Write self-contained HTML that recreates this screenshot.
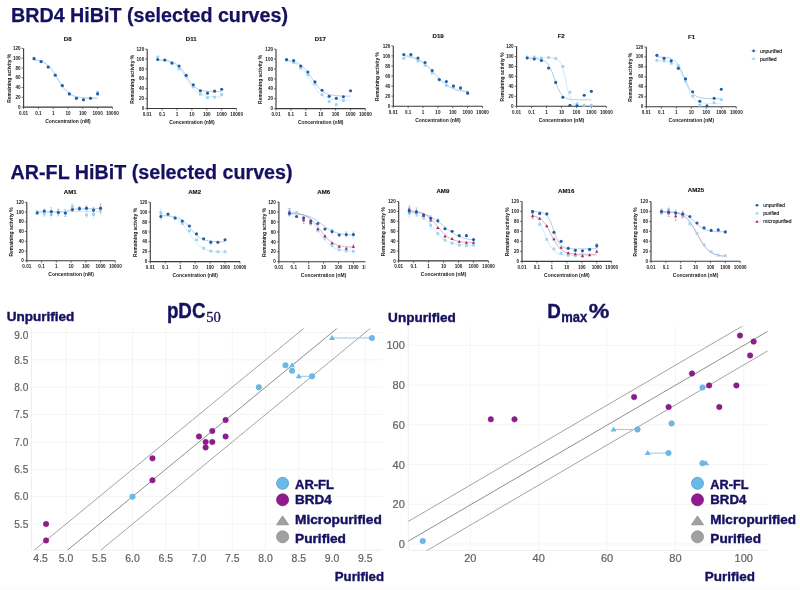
<!DOCTYPE html>
<html><head><meta charset="utf-8"><style>
html,body{margin:0;padding:0;background:#fff;width:800px;height:590px;overflow:hidden}
svg{display:block;will-change:transform}
</style></head><body>
<svg width="800" height="590" viewBox="0 0 800 590">
<rect width="800" height="590" fill="#fff"/>
<rect x="0" y="587" width="800" height="3" fill="#fbfcfb"/>
<text x="11.00" y="21.70" font-size="20.3" fill="#15105f" text-anchor="start" font-weight="bold" font-family='"Liberation Sans", sans-serif' textLength="277.00" lengthAdjust="spacingAndGlyphs" stroke="#15105f" stroke-width="0.25">BRD4 HiBiT (selected curves)</text>
<text x="10.60" y="179.00" font-size="20.3" fill="#15105f" text-anchor="start" font-weight="bold" font-family='"Liberation Sans", sans-serif' textLength="282.00" lengthAdjust="spacingAndGlyphs" stroke="#15105f" stroke-width="0.25">AR-FL HiBiT (selected curves)</text>
<g>
<path d="M23.60 48.40 V107.10 H112.40" stroke="#3a3a3a" stroke-width="1.1" fill="none"/>
<path d="M21.60 107.10 H23.60" stroke="#3a3a3a" stroke-width="0.7"/>
<text x="20.60" y="108.70" font-size="4.6" text-anchor="end" font-family='"Liberation Sans", sans-serif' font-weight="bold" fill="#1a1a1a">0</text>
<path d="M21.60 97.32 H23.60" stroke="#3a3a3a" stroke-width="0.7"/>
<text x="20.60" y="98.92" font-size="4.6" text-anchor="end" font-family='"Liberation Sans", sans-serif' font-weight="bold" fill="#1a1a1a">20</text>
<path d="M21.60 87.53 H23.60" stroke="#3a3a3a" stroke-width="0.7"/>
<text x="20.60" y="89.13" font-size="4.6" text-anchor="end" font-family='"Liberation Sans", sans-serif' font-weight="bold" fill="#1a1a1a">40</text>
<path d="M21.60 77.75 H23.60" stroke="#3a3a3a" stroke-width="0.7"/>
<text x="20.60" y="79.35" font-size="4.6" text-anchor="end" font-family='"Liberation Sans", sans-serif' font-weight="bold" fill="#1a1a1a">60</text>
<path d="M21.60 67.97 H23.60" stroke="#3a3a3a" stroke-width="0.7"/>
<text x="20.60" y="69.57" font-size="4.6" text-anchor="end" font-family='"Liberation Sans", sans-serif' font-weight="bold" fill="#1a1a1a">80</text>
<path d="M21.60 58.18 H23.60" stroke="#3a3a3a" stroke-width="0.7"/>
<text x="20.60" y="59.78" font-size="4.6" text-anchor="end" font-family='"Liberation Sans", sans-serif' font-weight="bold" fill="#1a1a1a">100</text>
<path d="M21.60 48.40 H23.60" stroke="#3a3a3a" stroke-width="0.7"/>
<text x="20.60" y="50.00" font-size="4.6" text-anchor="end" font-family='"Liberation Sans", sans-serif' font-weight="bold" fill="#1a1a1a">120</text>
<path d="M23.60 107.10 V109.10" stroke="#3a3a3a" stroke-width="0.7"/>
<text x="23.60" y="114.50" font-size="4.6" text-anchor="middle" font-family='"Liberation Sans", sans-serif' font-weight="bold" fill="#1a1a1a">0.01</text>
<path d="M38.40 107.10 V109.10" stroke="#3a3a3a" stroke-width="0.7"/>
<text x="38.40" y="114.50" font-size="4.6" text-anchor="middle" font-family='"Liberation Sans", sans-serif' font-weight="bold" fill="#1a1a1a">0.1</text>
<path d="M53.20 107.10 V109.10" stroke="#3a3a3a" stroke-width="0.7"/>
<text x="53.20" y="114.50" font-size="4.6" text-anchor="middle" font-family='"Liberation Sans", sans-serif' font-weight="bold" fill="#1a1a1a">1</text>
<path d="M68.00 107.10 V109.10" stroke="#3a3a3a" stroke-width="0.7"/>
<text x="68.00" y="114.50" font-size="4.6" text-anchor="middle" font-family='"Liberation Sans", sans-serif' font-weight="bold" fill="#1a1a1a">10</text>
<path d="M82.80 107.10 V109.10" stroke="#3a3a3a" stroke-width="0.7"/>
<text x="82.80" y="114.50" font-size="4.6" text-anchor="middle" font-family='"Liberation Sans", sans-serif' font-weight="bold" fill="#1a1a1a">100</text>
<path d="M97.60 107.10 V109.10" stroke="#3a3a3a" stroke-width="0.7"/>
<text x="97.60" y="114.50" font-size="4.6" text-anchor="middle" font-family='"Liberation Sans", sans-serif' font-weight="bold" fill="#1a1a1a">1000</text>
<path d="M112.40 107.10 V109.10" stroke="#3a3a3a" stroke-width="0.7"/>
<text x="112.40" y="114.50" font-size="4.6" text-anchor="middle" font-family='"Liberation Sans", sans-serif' font-weight="bold" fill="#1a1a1a">10000</text>
<text x="68.00" y="122.60" font-size="5.1" text-anchor="middle" font-family='"Liberation Sans", sans-serif' font-weight="bold" fill="#1a1a1a" textLength="45.5" lengthAdjust="spacingAndGlyphs">Concentration (nM)</text>
<text x="11.20" y="78.25" font-size="4.9" text-anchor="middle" font-family='"Liberation Sans", sans-serif' font-weight="bold" fill="#1a1a1a" transform="rotate(-90 11.20 78.25)">Remaining activity %</text>
<text x="67.70" y="40.50" font-size="6.1" text-anchor="middle" font-family='"Liberation Sans", sans-serif' font-weight="bold" fill="#111" stroke="#111" stroke-width="0.12">D8</text>
<path d="M33.94 59.83 L34.74 59.92 L35.54 60.03 L36.33 60.15 L37.13 60.29 L37.92 60.45 L38.72 60.64 L39.51 60.84 L40.31 61.07 L41.11 61.34 L41.90 61.64 L42.70 61.97 L43.49 62.35 L44.29 62.77 L45.08 63.24 L45.88 63.76 L46.68 64.35 L47.47 64.99 L48.27 65.70 L49.06 66.47 L49.86 67.32 L50.65 68.23 L51.45 69.22 L52.25 70.27 L53.04 71.38 L53.84 72.55 L54.63 73.78 L55.43 75.04 L56.22 76.34 L57.02 77.67 L57.82 79.00 L58.61 80.33 L59.41 81.64 L60.20 82.93 L61.00 84.18 L61.79 85.38 L62.59 86.53 L63.39 87.62 L64.18 88.64 L64.98 89.60 L65.77 90.49 L66.57 91.30 L67.36 92.05 L68.16 92.73 L68.96 93.35 L69.75 93.91 L70.55 94.41 L71.34 94.86 L72.14 95.27 L72.93 95.63 L73.73 95.95 L74.52 96.23 L75.32 96.48 L76.12 96.70 L76.91 96.90 L77.71 97.07 L78.50 97.22 L79.30 97.35 L80.09 97.47 L80.89 97.57 L81.69 97.66 L82.48 97.74 L83.28 97.81 L84.07 97.87 L84.87 97.93 L85.66 97.97 L86.46 98.01 L87.26 98.05 L88.05 98.08 L88.85 98.11 L89.64 98.13 L90.44 98.15 L91.23 98.17 L92.03 98.19 L92.83 98.20 L93.62 98.21 L94.42 98.22 L95.21 98.23 L96.01 98.24 L96.80 98.25 L97.60 98.25" stroke="#7ea8d2" stroke-width="0.6" fill="none"/>
<path d="M33.94 59.35 L34.74 59.44 L35.54 59.55 L36.33 59.68 L37.13 59.82 L37.92 59.98 L38.72 60.16 L39.51 60.37 L40.31 60.61 L41.11 60.88 L41.90 61.18 L42.70 61.52 L43.49 61.90 L44.29 62.32 L45.08 62.80 L45.88 63.33 L46.68 63.92 L47.47 64.57 L48.27 65.29 L49.06 66.08 L49.86 66.93 L50.65 67.86 L51.45 68.85 L52.25 69.92 L53.04 71.04 L53.84 72.23 L54.63 73.47 L55.43 74.75 L56.22 76.07 L57.02 77.41 L57.82 78.76 L58.61 80.10 L59.41 81.43 L60.20 82.73 L61.00 84.00 L61.79 85.22 L62.59 86.38 L63.39 87.49 L64.18 88.52 L64.98 89.49 L65.77 90.39 L66.57 91.22 L67.36 91.97 L68.16 92.66 L68.96 93.29 L69.75 93.86 L70.55 94.36 L71.34 94.82 L72.14 95.23 L72.93 95.59 L73.73 95.92 L74.52 96.20 L75.32 96.46 L76.12 96.68 L76.91 96.88 L77.71 97.05 L78.50 97.21 L79.30 97.34 L80.09 97.46 L80.89 97.57 L81.69 97.66 L82.48 97.74 L83.28 97.81 L84.07 97.87 L84.87 97.92 L85.66 97.97 L86.46 98.01 L87.26 98.05 L88.05 98.08 L88.85 98.11 L89.64 98.13 L90.44 98.15 L91.23 98.17 L92.03 98.18 L92.83 98.20 L93.62 98.21 L94.42 98.22 L95.21 98.23 L96.01 98.24 L96.80 98.25 L97.60 98.25" stroke="#afdbf5" stroke-width="0.6" fill="none"/>
<rect x="32.65" y="56.78" width="2.8" height="2.8" fill="#9dd3f5"/>
<rect x="39.71" y="60.21" width="2.8" height="2.8" fill="#9dd3f5"/>
<rect x="46.77" y="65.59" width="2.8" height="2.8" fill="#9dd3f5"/>
<rect x="53.83" y="73.41" width="2.8" height="2.8" fill="#9dd3f5"/>
<rect x="60.89" y="84.18" width="2.8" height="2.8" fill="#9dd3f5"/>
<rect x="67.95" y="92.49" width="2.8" height="2.8" fill="#9dd3f5"/>
<rect x="75.02" y="96.89" width="2.8" height="2.8" fill="#9dd3f5"/>
<rect x="82.08" y="98.36" width="2.8" height="2.8" fill="#9dd3f5"/>
<rect x="89.14" y="96.89" width="2.8" height="2.8" fill="#9dd3f5"/>
<rect x="96.20" y="91.02" width="2.8" height="2.8" fill="#9dd3f5"/>
<circle cx="34.05" cy="58.67" r="1.55" fill="#1f5ca6"/>
<circle cx="41.11" cy="61.61" r="1.55" fill="#1f5ca6"/>
<circle cx="48.17" cy="66.99" r="1.55" fill="#1f5ca6"/>
<circle cx="55.23" cy="75.30" r="1.55" fill="#1f5ca6"/>
<circle cx="62.29" cy="85.58" r="1.55" fill="#1f5ca6"/>
<circle cx="69.35" cy="93.89" r="1.55" fill="#1f5ca6"/>
<circle cx="76.42" cy="98.29" r="1.55" fill="#1f5ca6"/>
<circle cx="83.48" cy="99.76" r="1.55" fill="#1f5ca6"/>
<circle cx="90.54" cy="98.29" r="1.55" fill="#1f5ca6"/>
<circle cx="97.60" cy="93.89" r="1.55" fill="#1f5ca6"/>
<path d="M147.20 49.10 V108.50 H236.60" stroke="#3a3a3a" stroke-width="1.1" fill="none"/>
<path d="M145.20 108.50 H147.20" stroke="#3a3a3a" stroke-width="0.7"/>
<text x="144.20" y="110.10" font-size="4.6" text-anchor="end" font-family='"Liberation Sans", sans-serif' font-weight="bold" fill="#1a1a1a">0</text>
<path d="M145.20 98.60 H147.20" stroke="#3a3a3a" stroke-width="0.7"/>
<text x="144.20" y="100.20" font-size="4.6" text-anchor="end" font-family='"Liberation Sans", sans-serif' font-weight="bold" fill="#1a1a1a">20</text>
<path d="M145.20 88.70 H147.20" stroke="#3a3a3a" stroke-width="0.7"/>
<text x="144.20" y="90.30" font-size="4.6" text-anchor="end" font-family='"Liberation Sans", sans-serif' font-weight="bold" fill="#1a1a1a">40</text>
<path d="M145.20 78.80 H147.20" stroke="#3a3a3a" stroke-width="0.7"/>
<text x="144.20" y="80.40" font-size="4.6" text-anchor="end" font-family='"Liberation Sans", sans-serif' font-weight="bold" fill="#1a1a1a">60</text>
<path d="M145.20 68.90 H147.20" stroke="#3a3a3a" stroke-width="0.7"/>
<text x="144.20" y="70.50" font-size="4.6" text-anchor="end" font-family='"Liberation Sans", sans-serif' font-weight="bold" fill="#1a1a1a">80</text>
<path d="M145.20 59.00 H147.20" stroke="#3a3a3a" stroke-width="0.7"/>
<text x="144.20" y="60.60" font-size="4.6" text-anchor="end" font-family='"Liberation Sans", sans-serif' font-weight="bold" fill="#1a1a1a">100</text>
<path d="M145.20 49.10 H147.20" stroke="#3a3a3a" stroke-width="0.7"/>
<text x="144.20" y="50.70" font-size="4.6" text-anchor="end" font-family='"Liberation Sans", sans-serif' font-weight="bold" fill="#1a1a1a">120</text>
<path d="M147.20 108.50 V110.50" stroke="#3a3a3a" stroke-width="0.7"/>
<text x="147.20" y="115.90" font-size="4.6" text-anchor="middle" font-family='"Liberation Sans", sans-serif' font-weight="bold" fill="#1a1a1a">0.01</text>
<path d="M162.10 108.50 V110.50" stroke="#3a3a3a" stroke-width="0.7"/>
<text x="162.10" y="115.90" font-size="4.6" text-anchor="middle" font-family='"Liberation Sans", sans-serif' font-weight="bold" fill="#1a1a1a">0.1</text>
<path d="M177.00 108.50 V110.50" stroke="#3a3a3a" stroke-width="0.7"/>
<text x="177.00" y="115.90" font-size="4.6" text-anchor="middle" font-family='"Liberation Sans", sans-serif' font-weight="bold" fill="#1a1a1a">1</text>
<path d="M191.90 108.50 V110.50" stroke="#3a3a3a" stroke-width="0.7"/>
<text x="191.90" y="115.90" font-size="4.6" text-anchor="middle" font-family='"Liberation Sans", sans-serif' font-weight="bold" fill="#1a1a1a">10</text>
<path d="M206.80 108.50 V110.50" stroke="#3a3a3a" stroke-width="0.7"/>
<text x="206.80" y="115.90" font-size="4.6" text-anchor="middle" font-family='"Liberation Sans", sans-serif' font-weight="bold" fill="#1a1a1a">100</text>
<path d="M221.70 108.50 V110.50" stroke="#3a3a3a" stroke-width="0.7"/>
<text x="221.70" y="115.90" font-size="4.6" text-anchor="middle" font-family='"Liberation Sans", sans-serif' font-weight="bold" fill="#1a1a1a">1000</text>
<path d="M236.60 108.50 V110.50" stroke="#3a3a3a" stroke-width="0.7"/>
<text x="236.60" y="115.90" font-size="4.6" text-anchor="middle" font-family='"Liberation Sans", sans-serif' font-weight="bold" fill="#1a1a1a">10000</text>
<text x="191.90" y="124.00" font-size="5.1" text-anchor="middle" font-family='"Liberation Sans", sans-serif' font-weight="bold" fill="#1a1a1a" textLength="45.5" lengthAdjust="spacingAndGlyphs">Concentration (nM)</text>
<text x="133.70" y="79.30" font-size="4.9" text-anchor="middle" font-family='"Liberation Sans", sans-serif' font-weight="bold" fill="#1a1a1a" transform="rotate(-90 133.70 79.30)">Remaining activity %</text>
<text x="191.20" y="40.50" font-size="6.1" text-anchor="middle" font-family='"Liberation Sans", sans-serif' font-weight="bold" fill="#111" stroke="#111" stroke-width="0.12">D11</text>
<path d="M157.61 60.10 L158.42 60.11 L159.22 60.14 L160.02 60.16 L160.82 60.19 L161.62 60.23 L162.42 60.27 L163.22 60.31 L164.02 60.37 L164.82 60.44 L165.63 60.51 L166.43 60.60 L167.23 60.71 L168.03 60.83 L168.83 60.97 L169.63 61.14 L170.43 61.33 L171.23 61.55 L172.03 61.81 L172.83 62.10 L173.64 62.44 L174.44 62.83 L175.24 63.28 L176.04 63.78 L176.84 64.35 L177.64 64.99 L178.44 65.71 L179.24 66.50 L180.04 67.38 L180.85 68.33 L181.65 69.35 L182.45 70.45 L183.25 71.60 L184.05 72.81 L184.85 74.06 L185.65 75.32 L186.45 76.60 L187.25 77.86 L188.06 79.10 L188.86 80.30 L189.66 81.44 L190.46 82.52 L191.26 83.53 L192.06 84.47 L192.86 85.32 L193.66 86.10 L194.46 86.80 L195.26 87.43 L196.07 87.99 L196.87 88.48 L197.67 88.91 L198.47 89.29 L199.27 89.62 L200.07 89.91 L200.87 90.16 L201.67 90.37 L202.47 90.56 L203.28 90.72 L204.08 90.86 L204.88 90.98 L205.68 91.08 L206.48 91.16 L207.28 91.24 L208.08 91.30 L208.88 91.36 L209.68 91.40 L210.49 91.44 L211.29 91.48 L212.09 91.50 L212.89 91.53 L213.69 91.55 L214.49 91.57 L215.29 91.58 L216.09 91.60 L216.89 91.61 L217.69 91.62 L218.50 91.62 L219.30 91.63 L220.10 91.64 L220.90 91.64 L221.70 91.65" stroke="#7ea8d2" stroke-width="0.6" fill="none"/>
<path d="M157.61 59.80 L158.42 59.84 L159.22 59.89 L160.02 59.95 L160.82 60.01 L161.62 60.08 L162.42 60.17 L163.22 60.27 L164.02 60.38 L164.82 60.50 L165.63 60.64 L166.43 60.80 L167.23 60.99 L168.03 61.20 L168.83 61.43 L169.63 61.70 L170.43 62.00 L171.23 62.33 L172.03 62.71 L172.83 63.14 L173.64 63.61 L174.44 64.14 L175.24 64.72 L176.04 65.36 L176.84 66.07 L177.64 66.84 L178.44 67.68 L179.24 68.59 L180.04 69.56 L180.85 70.59 L181.65 71.69 L182.45 72.84 L183.25 74.03 L184.05 75.26 L184.85 76.52 L185.65 77.80 L186.45 79.08 L187.25 80.35 L188.06 81.60 L188.86 82.83 L189.66 84.01 L190.46 85.15 L191.26 86.23 L192.06 87.26 L192.86 88.21 L193.66 89.11 L194.46 89.93 L195.26 90.69 L196.07 91.38 L196.87 92.01 L197.67 92.58 L198.47 93.10 L199.27 93.56 L200.07 93.98 L200.87 94.35 L201.67 94.68 L202.47 94.97 L203.28 95.23 L204.08 95.46 L204.88 95.66 L205.68 95.84 L206.48 96.00 L207.28 96.14 L208.08 96.26 L208.88 96.36 L209.68 96.46 L210.49 96.54 L211.29 96.61 L212.09 96.68 L212.89 96.73 L213.69 96.78 L214.49 96.82 L215.29 96.86 L216.09 96.89 L216.89 96.92 L217.69 96.94 L218.50 96.97 L219.30 96.99 L220.10 97.00 L220.90 97.02 L221.70 97.03" stroke="#afdbf5" stroke-width="0.6" fill="none"/>
<rect x="156.32" y="55.62" width="2.8" height="2.8" fill="#9dd3f5"/>
<rect x="163.43" y="58.59" width="2.8" height="2.8" fill="#9dd3f5"/>
<rect x="170.54" y="62.05" width="2.8" height="2.8" fill="#9dd3f5"/>
<rect x="177.65" y="67.50" width="2.8" height="2.8" fill="#9dd3f5"/>
<rect x="184.75" y="74.92" width="2.8" height="2.8" fill="#9dd3f5"/>
<rect x="191.86" y="85.32" width="2.8" height="2.8" fill="#9dd3f5"/>
<rect x="198.97" y="92.74" width="2.8" height="2.8" fill="#9dd3f5"/>
<rect x="206.08" y="96.21" width="2.8" height="2.8" fill="#9dd3f5"/>
<rect x="213.19" y="95.71" width="2.8" height="2.8" fill="#9dd3f5"/>
<rect x="220.30" y="93.24" width="2.8" height="2.8" fill="#9dd3f5"/>
<circle cx="157.72" cy="59.49" r="1.55" fill="#1f5ca6"/>
<circle cx="164.83" cy="59.99" r="1.55" fill="#1f5ca6"/>
<circle cx="171.94" cy="62.96" r="1.55" fill="#1f5ca6"/>
<circle cx="179.05" cy="65.93" r="1.55" fill="#1f5ca6"/>
<circle cx="186.15" cy="75.34" r="1.55" fill="#1f5ca6"/>
<circle cx="193.26" cy="84.74" r="1.55" fill="#1f5ca6"/>
<circle cx="200.37" cy="90.68" r="1.55" fill="#1f5ca6"/>
<circle cx="207.48" cy="93.16" r="1.55" fill="#1f5ca6"/>
<circle cx="214.59" cy="91.17" r="1.55" fill="#1f5ca6"/>
<circle cx="221.70" cy="89.19" r="1.55" fill="#1f5ca6"/>
<path d="M276.00 49.20 V108.60 H365.40" stroke="#3a3a3a" stroke-width="1.1" fill="none"/>
<path d="M274.00 108.60 H276.00" stroke="#3a3a3a" stroke-width="0.7"/>
<text x="273.00" y="110.20" font-size="4.6" text-anchor="end" font-family='"Liberation Sans", sans-serif' font-weight="bold" fill="#1a1a1a">0</text>
<path d="M274.00 98.70 H276.00" stroke="#3a3a3a" stroke-width="0.7"/>
<text x="273.00" y="100.30" font-size="4.6" text-anchor="end" font-family='"Liberation Sans", sans-serif' font-weight="bold" fill="#1a1a1a">20</text>
<path d="M274.00 88.80 H276.00" stroke="#3a3a3a" stroke-width="0.7"/>
<text x="273.00" y="90.40" font-size="4.6" text-anchor="end" font-family='"Liberation Sans", sans-serif' font-weight="bold" fill="#1a1a1a">40</text>
<path d="M274.00 78.90 H276.00" stroke="#3a3a3a" stroke-width="0.7"/>
<text x="273.00" y="80.50" font-size="4.6" text-anchor="end" font-family='"Liberation Sans", sans-serif' font-weight="bold" fill="#1a1a1a">60</text>
<path d="M274.00 69.00 H276.00" stroke="#3a3a3a" stroke-width="0.7"/>
<text x="273.00" y="70.60" font-size="4.6" text-anchor="end" font-family='"Liberation Sans", sans-serif' font-weight="bold" fill="#1a1a1a">80</text>
<path d="M274.00 59.10 H276.00" stroke="#3a3a3a" stroke-width="0.7"/>
<text x="273.00" y="60.70" font-size="4.6" text-anchor="end" font-family='"Liberation Sans", sans-serif' font-weight="bold" fill="#1a1a1a">100</text>
<path d="M274.00 49.20 H276.00" stroke="#3a3a3a" stroke-width="0.7"/>
<text x="273.00" y="50.80" font-size="4.6" text-anchor="end" font-family='"Liberation Sans", sans-serif' font-weight="bold" fill="#1a1a1a">120</text>
<path d="M276.00 108.60 V110.60" stroke="#3a3a3a" stroke-width="0.7"/>
<text x="276.00" y="116.00" font-size="4.6" text-anchor="middle" font-family='"Liberation Sans", sans-serif' font-weight="bold" fill="#1a1a1a">0.01</text>
<path d="M290.90 108.60 V110.60" stroke="#3a3a3a" stroke-width="0.7"/>
<text x="290.90" y="116.00" font-size="4.6" text-anchor="middle" font-family='"Liberation Sans", sans-serif' font-weight="bold" fill="#1a1a1a">0.1</text>
<path d="M305.80 108.60 V110.60" stroke="#3a3a3a" stroke-width="0.7"/>
<text x="305.80" y="116.00" font-size="4.6" text-anchor="middle" font-family='"Liberation Sans", sans-serif' font-weight="bold" fill="#1a1a1a">1</text>
<path d="M320.70 108.60 V110.60" stroke="#3a3a3a" stroke-width="0.7"/>
<text x="320.70" y="116.00" font-size="4.6" text-anchor="middle" font-family='"Liberation Sans", sans-serif' font-weight="bold" fill="#1a1a1a">10</text>
<path d="M335.60 108.60 V110.60" stroke="#3a3a3a" stroke-width="0.7"/>
<text x="335.60" y="116.00" font-size="4.6" text-anchor="middle" font-family='"Liberation Sans", sans-serif' font-weight="bold" fill="#1a1a1a">100</text>
<path d="M350.50 108.60 V110.60" stroke="#3a3a3a" stroke-width="0.7"/>
<text x="350.50" y="116.00" font-size="4.6" text-anchor="middle" font-family='"Liberation Sans", sans-serif' font-weight="bold" fill="#1a1a1a">1000</text>
<path d="M365.40 108.60 V110.60" stroke="#3a3a3a" stroke-width="0.7"/>
<text x="365.40" y="116.00" font-size="4.6" text-anchor="middle" font-family='"Liberation Sans", sans-serif' font-weight="bold" fill="#1a1a1a">10000</text>
<text x="320.70" y="124.10" font-size="5.1" text-anchor="middle" font-family='"Liberation Sans", sans-serif' font-weight="bold" fill="#1a1a1a" textLength="45.5" lengthAdjust="spacingAndGlyphs">Concentration (nM)</text>
<text x="262.10" y="79.40" font-size="4.9" text-anchor="middle" font-family='"Liberation Sans", sans-serif' font-weight="bold" fill="#1a1a1a" transform="rotate(-90 262.10 79.40)">Remaining activity %</text>
<text x="320.30" y="40.50" font-size="6.1" text-anchor="middle" font-family='"Liberation Sans", sans-serif' font-weight="bold" fill="#111" stroke="#111" stroke-width="0.12">D17</text>
<path d="M286.41 60.57 L287.22 60.64 L288.02 60.72 L288.82 60.81 L289.62 60.91 L290.42 61.03 L291.22 61.16 L292.02 61.31 L292.82 61.49 L293.62 61.68 L294.43 61.90 L295.23 62.15 L296.03 62.43 L296.83 62.75 L297.63 63.10 L298.43 63.50 L299.23 63.95 L300.03 64.44 L300.83 64.99 L301.63 65.60 L302.44 66.26 L303.24 66.99 L304.04 67.78 L304.84 68.64 L305.64 69.56 L306.44 70.54 L307.24 71.58 L308.04 72.68 L308.84 73.81 L309.65 74.99 L310.45 76.20 L311.25 77.42 L312.05 78.65 L312.85 79.87 L313.65 81.08 L314.45 82.27 L315.25 83.41 L316.05 84.52 L316.86 85.57 L317.66 86.56 L318.46 87.49 L319.26 88.36 L320.06 89.17 L320.86 89.91 L321.66 90.59 L322.46 91.21 L323.26 91.77 L324.06 92.27 L324.87 92.73 L325.67 93.13 L326.47 93.50 L327.27 93.82 L328.07 94.11 L328.87 94.37 L329.67 94.59 L330.47 94.79 L331.27 94.97 L332.08 95.12 L332.88 95.26 L333.68 95.38 L334.48 95.48 L335.28 95.58 L336.08 95.66 L336.88 95.73 L337.68 95.79 L338.48 95.85 L339.29 95.89 L340.09 95.94 L340.89 95.97 L341.69 96.00 L342.49 96.03 L343.29 96.06 L344.09 96.08 L344.89 96.10 L345.69 96.11 L346.49 96.13 L347.30 96.14 L348.10 96.15 L348.90 96.16 L349.70 96.17 L350.50 96.18" stroke="#7ea8d2" stroke-width="0.6" fill="none"/>
<path d="M286.41 61.26 L287.22 61.35 L288.02 61.46 L288.82 61.59 L289.62 61.73 L290.42 61.89 L291.22 62.08 L292.02 62.28 L292.82 62.52 L293.62 62.79 L294.43 63.09 L295.23 63.43 L296.03 63.81 L296.83 64.23 L297.63 64.71 L298.43 65.24 L299.23 65.83 L300.03 66.48 L300.83 67.20 L301.63 67.99 L302.44 68.84 L303.24 69.76 L304.04 70.76 L304.84 71.82 L305.64 72.95 L306.44 74.14 L307.24 75.38 L308.04 76.66 L308.84 77.97 L309.65 79.31 L310.45 80.66 L311.25 82.00 L312.05 83.33 L312.85 84.63 L313.65 85.90 L314.45 87.12 L315.25 88.28 L316.05 89.38 L316.86 90.42 L317.66 91.39 L318.46 92.28 L319.26 93.11 L320.06 93.87 L320.86 94.56 L321.66 95.18 L322.46 95.75 L323.26 96.26 L324.06 96.71 L324.87 97.12 L325.67 97.48 L326.47 97.81 L327.27 98.09 L328.07 98.35 L328.87 98.57 L329.67 98.77 L330.47 98.94 L331.27 99.10 L332.08 99.23 L332.88 99.35 L333.68 99.46 L334.48 99.55 L335.28 99.63 L336.08 99.70 L336.88 99.76 L337.68 99.81 L338.48 99.86 L339.29 99.90 L340.09 99.94 L340.89 99.97 L341.69 100.00 L342.49 100.02 L343.29 100.04 L344.09 100.06 L344.89 100.07 L345.69 100.09 L346.49 100.10 L347.30 100.11 L348.10 100.12 L348.90 100.13 L349.70 100.14 L350.50 100.14" stroke="#afdbf5" stroke-width="0.6" fill="none"/>
<rect x="285.12" y="58.69" width="2.8" height="2.8" fill="#9dd3f5"/>
<rect x="292.23" y="61.16" width="2.8" height="2.8" fill="#9dd3f5"/>
<rect x="299.34" y="66.61" width="2.8" height="2.8" fill="#9dd3f5"/>
<rect x="306.45" y="73.54" width="2.8" height="2.8" fill="#9dd3f5"/>
<rect x="313.55" y="82.45" width="2.8" height="2.8" fill="#9dd3f5"/>
<rect x="320.66" y="93.34" width="2.8" height="2.8" fill="#9dd3f5"/>
<rect x="327.77" y="100.27" width="2.8" height="2.8" fill="#9dd3f5"/>
<rect x="334.88" y="103.24" width="2.8" height="2.8" fill="#9dd3f5"/>
<rect x="341.99" y="99.28" width="2.8" height="2.8" fill="#9dd3f5"/>
<circle cx="286.52" cy="59.59" r="1.55" fill="#1f5ca6"/>
<circle cx="293.63" cy="60.59" r="1.55" fill="#1f5ca6"/>
<circle cx="300.74" cy="66.03" r="1.55" fill="#1f5ca6"/>
<circle cx="307.85" cy="71.97" r="1.55" fill="#1f5ca6"/>
<circle cx="314.95" cy="81.87" r="1.55" fill="#1f5ca6"/>
<circle cx="322.06" cy="90.28" r="1.55" fill="#1f5ca6"/>
<circle cx="329.17" cy="96.22" r="1.55" fill="#1f5ca6"/>
<circle cx="336.28" cy="98.20" r="1.55" fill="#1f5ca6"/>
<circle cx="343.39" cy="96.72" r="1.55" fill="#1f5ca6"/>
<circle cx="350.50" cy="90.78" r="1.55" fill="#1f5ca6"/>
<path d="M393.30 45.90 V106.20 H482.50" stroke="#3a3a3a" stroke-width="1.1" fill="none"/>
<path d="M391.30 106.20 H393.30" stroke="#3a3a3a" stroke-width="0.7"/>
<text x="390.30" y="107.80" font-size="4.6" text-anchor="end" font-family='"Liberation Sans", sans-serif' font-weight="bold" fill="#1a1a1a">0</text>
<path d="M391.30 96.15 H393.30" stroke="#3a3a3a" stroke-width="0.7"/>
<text x="390.30" y="97.75" font-size="4.6" text-anchor="end" font-family='"Liberation Sans", sans-serif' font-weight="bold" fill="#1a1a1a">20</text>
<path d="M391.30 86.10 H393.30" stroke="#3a3a3a" stroke-width="0.7"/>
<text x="390.30" y="87.70" font-size="4.6" text-anchor="end" font-family='"Liberation Sans", sans-serif' font-weight="bold" fill="#1a1a1a">40</text>
<path d="M391.30 76.05 H393.30" stroke="#3a3a3a" stroke-width="0.7"/>
<text x="390.30" y="77.65" font-size="4.6" text-anchor="end" font-family='"Liberation Sans", sans-serif' font-weight="bold" fill="#1a1a1a">60</text>
<path d="M391.30 66.00 H393.30" stroke="#3a3a3a" stroke-width="0.7"/>
<text x="390.30" y="67.60" font-size="4.6" text-anchor="end" font-family='"Liberation Sans", sans-serif' font-weight="bold" fill="#1a1a1a">80</text>
<path d="M391.30 55.95 H393.30" stroke="#3a3a3a" stroke-width="0.7"/>
<text x="390.30" y="57.55" font-size="4.6" text-anchor="end" font-family='"Liberation Sans", sans-serif' font-weight="bold" fill="#1a1a1a">100</text>
<path d="M391.30 45.90 H393.30" stroke="#3a3a3a" stroke-width="0.7"/>
<text x="390.30" y="47.50" font-size="4.6" text-anchor="end" font-family='"Liberation Sans", sans-serif' font-weight="bold" fill="#1a1a1a">120</text>
<path d="M393.30 106.20 V108.20" stroke="#3a3a3a" stroke-width="0.7"/>
<text x="393.30" y="113.60" font-size="4.6" text-anchor="middle" font-family='"Liberation Sans", sans-serif' font-weight="bold" fill="#1a1a1a">0.01</text>
<path d="M408.17 106.20 V108.20" stroke="#3a3a3a" stroke-width="0.7"/>
<text x="408.17" y="113.60" font-size="4.6" text-anchor="middle" font-family='"Liberation Sans", sans-serif' font-weight="bold" fill="#1a1a1a">0.1</text>
<path d="M423.03 106.20 V108.20" stroke="#3a3a3a" stroke-width="0.7"/>
<text x="423.03" y="113.60" font-size="4.6" text-anchor="middle" font-family='"Liberation Sans", sans-serif' font-weight="bold" fill="#1a1a1a">1</text>
<path d="M437.90 106.20 V108.20" stroke="#3a3a3a" stroke-width="0.7"/>
<text x="437.90" y="113.60" font-size="4.6" text-anchor="middle" font-family='"Liberation Sans", sans-serif' font-weight="bold" fill="#1a1a1a">10</text>
<path d="M452.77 106.20 V108.20" stroke="#3a3a3a" stroke-width="0.7"/>
<text x="452.77" y="113.60" font-size="4.6" text-anchor="middle" font-family='"Liberation Sans", sans-serif' font-weight="bold" fill="#1a1a1a">100</text>
<path d="M467.63 106.20 V108.20" stroke="#3a3a3a" stroke-width="0.7"/>
<text x="467.63" y="113.60" font-size="4.6" text-anchor="middle" font-family='"Liberation Sans", sans-serif' font-weight="bold" fill="#1a1a1a">1000</text>
<path d="M482.50 106.20 V108.20" stroke="#3a3a3a" stroke-width="0.7"/>
<text x="482.50" y="113.60" font-size="4.6" text-anchor="middle" font-family='"Liberation Sans", sans-serif' font-weight="bold" fill="#1a1a1a">10000</text>
<text x="437.90" y="121.70" font-size="5.1" text-anchor="middle" font-family='"Liberation Sans", sans-serif' font-weight="bold" fill="#1a1a1a" textLength="45.5" lengthAdjust="spacingAndGlyphs">Concentration (nM)</text>
<text x="379.00" y="76.55" font-size="4.9" text-anchor="middle" font-family='"Liberation Sans", sans-serif' font-weight="bold" fill="#1a1a1a" transform="rotate(-90 379.00 76.55)">Remaining activity %</text>
<text x="438.10" y="38.40" font-size="6.1" text-anchor="middle" font-family='"Liberation Sans", sans-serif' font-weight="bold" fill="#111" stroke="#111" stroke-width="0.12">D19</text>
<path d="M403.69 55.47 L404.49 55.56 L405.29 55.67 L406.09 55.79 L406.89 55.91 L407.69 56.05 L408.49 56.20 L409.29 56.36 L410.09 56.54 L410.88 56.73 L411.68 56.93 L412.48 57.16 L413.28 57.40 L414.08 57.67 L414.88 57.95 L415.68 58.26 L416.48 58.59 L417.28 58.95 L418.08 59.33 L418.88 59.74 L419.68 60.18 L420.48 60.64 L421.28 61.14 L422.07 61.67 L422.87 62.23 L423.67 62.82 L424.47 63.44 L425.27 64.10 L426.07 64.78 L426.87 65.50 L427.67 66.24 L428.47 67.01 L429.27 67.80 L430.07 68.62 L430.87 69.46 L431.67 70.31 L432.47 71.18 L433.26 72.06 L434.06 72.94 L434.86 73.83 L435.66 74.71 L436.46 75.59 L437.26 76.46 L438.06 77.32 L438.86 78.17 L439.66 78.99 L440.46 79.79 L441.26 80.57 L442.06 81.32 L442.86 82.05 L443.66 82.74 L444.45 83.41 L445.25 84.04 L446.05 84.65 L446.85 85.22 L447.65 85.76 L448.45 86.26 L449.25 86.74 L450.05 87.19 L450.85 87.61 L451.65 88.00 L452.45 88.36 L453.25 88.70 L454.05 89.02 L454.84 89.31 L455.64 89.58 L456.44 89.83 L457.24 90.06 L458.04 90.28 L458.84 90.48 L459.64 90.66 L460.44 90.82 L461.24 90.98 L462.04 91.12 L462.84 91.25 L463.64 91.37 L464.44 91.48 L465.24 91.57 L466.03 91.67 L466.83 91.75 L467.63 91.83" stroke="#7ea8d2" stroke-width="0.6" fill="none"/>
<path d="M403.69 56.43 L404.49 56.53 L405.29 56.63 L406.09 56.74 L406.89 56.86 L407.69 56.99 L408.49 57.13 L409.29 57.29 L410.09 57.46 L410.88 57.64 L411.68 57.84 L412.48 58.06 L413.28 58.29 L414.08 58.54 L414.88 58.82 L415.68 59.11 L416.48 59.43 L417.28 59.77 L418.08 60.14 L418.88 60.53 L419.68 60.95 L420.48 61.40 L421.28 61.88 L422.07 62.39 L422.87 62.93 L423.67 63.49 L424.47 64.09 L425.27 64.72 L426.07 65.38 L426.87 66.06 L427.67 66.78 L428.47 67.52 L429.27 68.28 L430.07 69.07 L430.87 69.87 L431.67 70.69 L432.47 71.52 L433.26 72.37 L434.06 73.22 L434.86 74.07 L435.66 74.92 L436.46 75.76 L437.26 76.60 L438.06 77.42 L438.86 78.23 L439.66 79.03 L440.46 79.80 L441.26 80.55 L442.06 81.27 L442.86 81.96 L443.66 82.63 L444.45 83.27 L445.25 83.88 L446.05 84.46 L446.85 85.01 L447.65 85.52 L448.45 86.01 L449.25 86.47 L450.05 86.90 L450.85 87.30 L451.65 87.68 L452.45 88.03 L453.25 88.36 L454.05 88.66 L454.84 88.94 L455.64 89.20 L456.44 89.44 L457.24 89.66 L458.04 89.87 L458.84 90.06 L459.64 90.23 L460.44 90.39 L461.24 90.54 L462.04 90.68 L462.84 90.80 L463.64 90.91 L464.44 91.02 L465.24 91.11 L466.03 91.20 L466.83 91.28 L467.63 91.36" stroke="#afdbf5" stroke-width="0.6" fill="none"/>
<rect x="402.39" y="57.06" width="2.8" height="2.8" fill="#9dd3f5"/>
<rect x="409.49" y="54.55" width="2.8" height="2.8" fill="#9dd3f5"/>
<rect x="416.58" y="59.57" width="2.8" height="2.8" fill="#9dd3f5"/>
<rect x="423.67" y="64.10" width="2.8" height="2.8" fill="#9dd3f5"/>
<rect x="430.77" y="71.63" width="2.8" height="2.8" fill="#9dd3f5"/>
<rect x="437.86" y="78.67" width="2.8" height="2.8" fill="#9dd3f5"/>
<rect x="444.95" y="84.20" width="2.8" height="2.8" fill="#9dd3f5"/>
<rect x="452.05" y="84.70" width="2.8" height="2.8" fill="#9dd3f5"/>
<rect x="459.14" y="86.21" width="2.8" height="2.8" fill="#9dd3f5"/>
<rect x="466.23" y="90.73" width="2.8" height="2.8" fill="#9dd3f5"/>
<circle cx="403.79" cy="54.44" r="1.55" fill="#1f5ca6"/>
<circle cx="410.89" cy="54.44" r="1.55" fill="#1f5ca6"/>
<circle cx="417.98" cy="57.96" r="1.55" fill="#1f5ca6"/>
<circle cx="425.07" cy="62.48" r="1.55" fill="#1f5ca6"/>
<circle cx="432.17" cy="70.52" r="1.55" fill="#1f5ca6"/>
<circle cx="439.26" cy="79.57" r="1.55" fill="#1f5ca6"/>
<circle cx="446.35" cy="81.58" r="1.55" fill="#1f5ca6"/>
<circle cx="453.45" cy="86.10" r="1.55" fill="#1f5ca6"/>
<circle cx="460.54" cy="88.11" r="1.55" fill="#1f5ca6"/>
<circle cx="467.63" cy="93.14" r="1.55" fill="#1f5ca6"/>
<path d="M516.60 46.60 V106.25 H606.30" stroke="#3a3a3a" stroke-width="1.1" fill="none"/>
<path d="M514.60 106.25 H516.60" stroke="#3a3a3a" stroke-width="0.7"/>
<text x="513.60" y="107.85" font-size="4.6" text-anchor="end" font-family='"Liberation Sans", sans-serif' font-weight="bold" fill="#1a1a1a">0</text>
<path d="M514.60 96.31 H516.60" stroke="#3a3a3a" stroke-width="0.7"/>
<text x="513.60" y="97.91" font-size="4.6" text-anchor="end" font-family='"Liberation Sans", sans-serif' font-weight="bold" fill="#1a1a1a">20</text>
<path d="M514.60 86.37 H516.60" stroke="#3a3a3a" stroke-width="0.7"/>
<text x="513.60" y="87.97" font-size="4.6" text-anchor="end" font-family='"Liberation Sans", sans-serif' font-weight="bold" fill="#1a1a1a">40</text>
<path d="M514.60 76.42 H516.60" stroke="#3a3a3a" stroke-width="0.7"/>
<text x="513.60" y="78.02" font-size="4.6" text-anchor="end" font-family='"Liberation Sans", sans-serif' font-weight="bold" fill="#1a1a1a">60</text>
<path d="M514.60 66.48 H516.60" stroke="#3a3a3a" stroke-width="0.7"/>
<text x="513.60" y="68.08" font-size="4.6" text-anchor="end" font-family='"Liberation Sans", sans-serif' font-weight="bold" fill="#1a1a1a">80</text>
<path d="M514.60 56.54 H516.60" stroke="#3a3a3a" stroke-width="0.7"/>
<text x="513.60" y="58.14" font-size="4.6" text-anchor="end" font-family='"Liberation Sans", sans-serif' font-weight="bold" fill="#1a1a1a">100</text>
<path d="M514.60 46.60 H516.60" stroke="#3a3a3a" stroke-width="0.7"/>
<text x="513.60" y="48.20" font-size="4.6" text-anchor="end" font-family='"Liberation Sans", sans-serif' font-weight="bold" fill="#1a1a1a">120</text>
<path d="M516.60 106.25 V108.25" stroke="#3a3a3a" stroke-width="0.7"/>
<text x="516.60" y="113.65" font-size="4.6" text-anchor="middle" font-family='"Liberation Sans", sans-serif' font-weight="bold" fill="#1a1a1a">0.01</text>
<path d="M531.55 106.25 V108.25" stroke="#3a3a3a" stroke-width="0.7"/>
<text x="531.55" y="113.65" font-size="4.6" text-anchor="middle" font-family='"Liberation Sans", sans-serif' font-weight="bold" fill="#1a1a1a">0.1</text>
<path d="M546.50 106.25 V108.25" stroke="#3a3a3a" stroke-width="0.7"/>
<text x="546.50" y="113.65" font-size="4.6" text-anchor="middle" font-family='"Liberation Sans", sans-serif' font-weight="bold" fill="#1a1a1a">1</text>
<path d="M561.45 106.25 V108.25" stroke="#3a3a3a" stroke-width="0.7"/>
<text x="561.45" y="113.65" font-size="4.6" text-anchor="middle" font-family='"Liberation Sans", sans-serif' font-weight="bold" fill="#1a1a1a">10</text>
<path d="M576.40 106.25 V108.25" stroke="#3a3a3a" stroke-width="0.7"/>
<text x="576.40" y="113.65" font-size="4.6" text-anchor="middle" font-family='"Liberation Sans", sans-serif' font-weight="bold" fill="#1a1a1a">100</text>
<path d="M591.35 106.25 V108.25" stroke="#3a3a3a" stroke-width="0.7"/>
<text x="591.35" y="113.65" font-size="4.6" text-anchor="middle" font-family='"Liberation Sans", sans-serif' font-weight="bold" fill="#1a1a1a">1000</text>
<path d="M606.30 106.25 V108.25" stroke="#3a3a3a" stroke-width="0.7"/>
<text x="606.30" y="113.65" font-size="4.6" text-anchor="middle" font-family='"Liberation Sans", sans-serif' font-weight="bold" fill="#1a1a1a">10000</text>
<text x="561.45" y="121.75" font-size="5.1" text-anchor="middle" font-family='"Liberation Sans", sans-serif' font-weight="bold" fill="#1a1a1a" textLength="45.5" lengthAdjust="spacingAndGlyphs">Concentration (nM)</text>
<text x="503.80" y="76.92" font-size="4.9" text-anchor="middle" font-family='"Liberation Sans", sans-serif' font-weight="bold" fill="#1a1a1a" transform="rotate(-90 503.80 76.92)">Remaining activity %</text>
<text x="561.20" y="38.40" font-size="6.1" text-anchor="middle" font-family='"Liberation Sans", sans-serif' font-weight="bold" fill="#111" stroke="#111" stroke-width="0.12">F2</text>
<path d="M527.05 58.55 L527.85 58.55 L528.66 58.56 L529.46 58.57 L530.26 58.58 L531.07 58.59 L531.87 58.60 L532.68 58.62 L533.48 58.65 L534.28 58.68 L535.09 58.71 L535.89 58.76 L536.69 58.81 L537.50 58.88 L538.30 58.97 L539.11 59.08 L539.91 59.21 L540.71 59.38 L541.52 59.59 L542.32 59.85 L543.12 60.16 L543.93 60.55 L544.73 61.02 L545.54 61.60 L546.34 62.29 L547.14 63.13 L547.95 64.12 L548.75 65.28 L549.55 66.64 L550.36 68.19 L551.16 69.93 L551.97 71.86 L552.77 73.94 L553.57 76.15 L554.38 78.43 L555.18 80.72 L555.98 82.98 L556.79 85.14 L557.59 87.17 L558.40 89.04 L559.20 90.71 L560.00 92.19 L560.81 93.48 L561.61 94.58 L562.41 95.51 L563.22 96.29 L564.02 96.94 L564.83 97.48 L565.63 97.92 L566.43 98.28 L567.24 98.57 L568.04 98.81 L568.84 99.00 L569.65 99.16 L570.45 99.28 L571.26 99.38 L572.06 99.46 L572.86 99.53 L573.67 99.58 L574.47 99.62 L575.27 99.65 L576.08 99.68 L576.88 99.70 L577.69 99.72 L578.49 99.73 L579.29 99.74 L580.10 99.75 L580.90 99.76 L581.70 99.77 L582.51 99.77 L583.31 99.77 L584.12 99.78 L584.92 99.78 L585.72 99.78 L586.53 99.78 L587.33 99.78 L588.13 99.78 L588.94 99.78 L589.74 99.79 L590.55 99.79 L591.35 99.79" stroke="#7ea8d2" stroke-width="0.6" fill="none"/>
<path d="M527.05 57.54 L527.85 57.54 L528.66 57.54 L529.46 57.54 L530.26 57.54 L531.07 57.54 L531.87 57.54 L532.68 57.54 L533.48 57.54 L534.28 57.54 L535.09 57.54 L535.89 57.54 L536.69 57.54 L537.50 57.54 L538.30 57.54 L539.11 57.54 L539.91 57.54 L540.71 57.54 L541.52 57.54 L542.32 57.54 L543.12 57.54 L543.93 57.55 L544.73 57.55 L545.54 57.55 L546.34 57.56 L547.14 57.57 L547.95 57.58 L548.75 57.60 L549.55 57.62 L550.36 57.65 L551.16 57.70 L551.97 57.76 L552.77 57.84 L553.57 57.94 L554.38 58.09 L555.18 58.29 L555.98 58.55 L556.79 58.91 L557.59 59.39 L558.40 60.03 L559.20 60.87 L560.00 61.97 L560.81 63.38 L561.61 65.17 L562.41 67.37 L563.22 70.02 L564.02 73.08 L564.83 76.51 L565.63 80.16 L566.43 83.88 L567.24 87.50 L568.04 90.86 L568.84 93.84 L569.65 96.40 L570.45 98.51 L571.26 100.22 L572.06 101.56 L572.86 102.61 L573.67 103.40 L574.47 104.01 L575.27 104.46 L576.08 104.80 L576.88 105.05 L577.69 105.23 L578.49 105.37 L579.29 105.47 L580.10 105.55 L580.90 105.60 L581.70 105.64 L582.51 105.67 L583.31 105.69 L584.12 105.71 L584.92 105.72 L585.72 105.73 L586.53 105.74 L587.33 105.74 L588.13 105.74 L588.94 105.75 L589.74 105.75 L590.55 105.75 L591.35 105.75" stroke="#afdbf5" stroke-width="0.6" fill="none"/>
<rect x="525.75" y="55.64" width="2.8" height="2.8" fill="#9dd3f5"/>
<rect x="532.89" y="55.64" width="2.8" height="2.8" fill="#9dd3f5"/>
<rect x="540.02" y="56.63" width="2.8" height="2.8" fill="#9dd3f5"/>
<rect x="547.15" y="56.14" width="2.8" height="2.8" fill="#9dd3f5"/>
<rect x="554.29" y="57.13" width="2.8" height="2.8" fill="#9dd3f5"/>
<rect x="561.42" y="65.08" width="2.8" height="2.8" fill="#9dd3f5"/>
<rect x="568.55" y="90.93" width="2.8" height="2.8" fill="#9dd3f5"/>
<rect x="575.68" y="102.36" width="2.8" height="2.8" fill="#9dd3f5"/>
<rect x="582.82" y="103.86" width="2.8" height="2.8" fill="#9dd3f5"/>
<rect x="589.95" y="103.86" width="2.8" height="2.8" fill="#9dd3f5"/>
<circle cx="527.15" cy="58.03" r="1.55" fill="#1f5ca6"/>
<circle cx="534.29" cy="59.03" r="1.55" fill="#1f5ca6"/>
<circle cx="541.42" cy="60.52" r="1.55" fill="#1f5ca6"/>
<circle cx="548.55" cy="67.97" r="1.55" fill="#1f5ca6"/>
<circle cx="555.69" cy="82.39" r="1.55" fill="#1f5ca6"/>
<circle cx="562.82" cy="97.30" r="1.55" fill="#1f5ca6"/>
<circle cx="569.95" cy="105.26" r="1.55" fill="#1f5ca6"/>
<circle cx="577.08" cy="105.75" r="1.55" fill="#1f5ca6"/>
<circle cx="584.22" cy="95.31" r="1.55" fill="#1f5ca6"/>
<circle cx="591.35" cy="91.34" r="1.55" fill="#1f5ca6"/>
<path d="M646.30 46.90 V106.70 H736.30" stroke="#3a3a3a" stroke-width="1.1" fill="none"/>
<path d="M644.30 106.70 H646.30" stroke="#3a3a3a" stroke-width="0.7"/>
<text x="643.30" y="108.30" font-size="4.6" text-anchor="end" font-family='"Liberation Sans", sans-serif' font-weight="bold" fill="#1a1a1a">0</text>
<path d="M644.30 96.73 H646.30" stroke="#3a3a3a" stroke-width="0.7"/>
<text x="643.30" y="98.33" font-size="4.6" text-anchor="end" font-family='"Liberation Sans", sans-serif' font-weight="bold" fill="#1a1a1a">20</text>
<path d="M644.30 86.77 H646.30" stroke="#3a3a3a" stroke-width="0.7"/>
<text x="643.30" y="88.37" font-size="4.6" text-anchor="end" font-family='"Liberation Sans", sans-serif' font-weight="bold" fill="#1a1a1a">40</text>
<path d="M644.30 76.80 H646.30" stroke="#3a3a3a" stroke-width="0.7"/>
<text x="643.30" y="78.40" font-size="4.6" text-anchor="end" font-family='"Liberation Sans", sans-serif' font-weight="bold" fill="#1a1a1a">60</text>
<path d="M644.30 66.83 H646.30" stroke="#3a3a3a" stroke-width="0.7"/>
<text x="643.30" y="68.43" font-size="4.6" text-anchor="end" font-family='"Liberation Sans", sans-serif' font-weight="bold" fill="#1a1a1a">80</text>
<path d="M644.30 56.87 H646.30" stroke="#3a3a3a" stroke-width="0.7"/>
<text x="643.30" y="58.47" font-size="4.6" text-anchor="end" font-family='"Liberation Sans", sans-serif' font-weight="bold" fill="#1a1a1a">100</text>
<path d="M644.30 46.90 H646.30" stroke="#3a3a3a" stroke-width="0.7"/>
<text x="643.30" y="48.50" font-size="4.6" text-anchor="end" font-family='"Liberation Sans", sans-serif' font-weight="bold" fill="#1a1a1a">120</text>
<path d="M646.30 106.70 V108.70" stroke="#3a3a3a" stroke-width="0.7"/>
<text x="646.30" y="114.10" font-size="4.6" text-anchor="middle" font-family='"Liberation Sans", sans-serif' font-weight="bold" fill="#1a1a1a">0.01</text>
<path d="M661.30 106.70 V108.70" stroke="#3a3a3a" stroke-width="0.7"/>
<text x="661.30" y="114.10" font-size="4.6" text-anchor="middle" font-family='"Liberation Sans", sans-serif' font-weight="bold" fill="#1a1a1a">0.1</text>
<path d="M676.30 106.70 V108.70" stroke="#3a3a3a" stroke-width="0.7"/>
<text x="676.30" y="114.10" font-size="4.6" text-anchor="middle" font-family='"Liberation Sans", sans-serif' font-weight="bold" fill="#1a1a1a">1</text>
<path d="M691.30 106.70 V108.70" stroke="#3a3a3a" stroke-width="0.7"/>
<text x="691.30" y="114.10" font-size="4.6" text-anchor="middle" font-family='"Liberation Sans", sans-serif' font-weight="bold" fill="#1a1a1a">10</text>
<path d="M706.30 106.70 V108.70" stroke="#3a3a3a" stroke-width="0.7"/>
<text x="706.30" y="114.10" font-size="4.6" text-anchor="middle" font-family='"Liberation Sans", sans-serif' font-weight="bold" fill="#1a1a1a">100</text>
<path d="M721.30 106.70 V108.70" stroke="#3a3a3a" stroke-width="0.7"/>
<text x="721.30" y="114.10" font-size="4.6" text-anchor="middle" font-family='"Liberation Sans", sans-serif' font-weight="bold" fill="#1a1a1a">1000</text>
<path d="M736.30 106.70 V108.70" stroke="#3a3a3a" stroke-width="0.7"/>
<text x="736.30" y="114.10" font-size="4.6" text-anchor="middle" font-family='"Liberation Sans", sans-serif' font-weight="bold" fill="#1a1a1a">10000</text>
<text x="691.30" y="122.20" font-size="5.1" text-anchor="middle" font-family='"Liberation Sans", sans-serif' font-weight="bold" fill="#1a1a1a" textLength="45.5" lengthAdjust="spacingAndGlyphs">Concentration (nM)</text>
<text x="632.00" y="77.30" font-size="4.9" text-anchor="middle" font-family='"Liberation Sans", sans-serif' font-weight="bold" fill="#1a1a1a" transform="rotate(-90 632.00 77.30)">Remaining activity %</text>
<text x="691.60" y="38.70" font-size="6.1" text-anchor="middle" font-family='"Liberation Sans", sans-serif' font-weight="bold" fill="#111" stroke="#111" stroke-width="0.12">F1</text>
<path d="M656.78 56.94 L657.59 56.95 L658.40 56.97 L659.20 56.99 L660.01 57.02 L660.82 57.05 L661.62 57.08 L662.43 57.13 L663.24 57.18 L664.04 57.24 L664.85 57.32 L665.66 57.41 L666.46 57.52 L667.27 57.65 L668.07 57.81 L668.88 57.99 L669.69 58.22 L670.49 58.48 L671.30 58.80 L672.11 59.17 L672.91 59.61 L673.72 60.12 L674.53 60.72 L675.33 61.43 L676.14 62.24 L676.95 63.17 L677.75 64.23 L678.56 65.42 L679.36 66.76 L680.17 68.23 L680.98 69.83 L681.78 71.54 L682.59 73.36 L683.40 75.25 L684.20 77.18 L685.01 79.12 L685.82 81.04 L686.62 82.90 L687.43 84.68 L688.24 86.36 L689.04 87.91 L689.85 89.34 L690.66 90.62 L691.46 91.76 L692.27 92.78 L693.07 93.66 L693.88 94.43 L694.69 95.10 L695.49 95.67 L696.30 96.15 L697.11 96.57 L697.91 96.92 L698.72 97.21 L699.53 97.46 L700.33 97.67 L701.14 97.85 L701.95 97.99 L702.75 98.12 L703.56 98.22 L704.36 98.30 L705.17 98.37 L705.98 98.43 L706.78 98.48 L707.59 98.52 L708.40 98.56 L709.20 98.59 L710.01 98.61 L710.82 98.63 L711.62 98.65 L712.43 98.66 L713.24 98.67 L714.04 98.68 L714.85 98.69 L715.65 98.69 L716.46 98.70 L717.27 98.70 L718.07 98.71 L718.88 98.71 L719.69 98.71 L720.49 98.72 L721.30 98.72" stroke="#7ea8d2" stroke-width="0.6" fill="none"/>
<path d="M656.78 60.91 L657.59 60.93 L658.40 60.94 L659.20 60.96 L660.01 60.98 L660.82 61.00 L661.62 61.04 L662.43 61.07 L663.24 61.12 L664.04 61.17 L664.85 61.23 L665.66 61.31 L666.46 61.40 L667.27 61.51 L668.07 61.64 L668.88 61.80 L669.69 61.99 L670.49 62.22 L671.30 62.48 L672.11 62.80 L672.91 63.18 L673.72 63.62 L674.53 64.14 L675.33 64.75 L676.14 65.46 L676.95 66.28 L677.75 67.22 L678.56 68.30 L679.36 69.51 L680.17 70.87 L680.98 72.36 L681.78 73.99 L682.59 75.74 L683.40 77.59 L684.20 79.52 L685.01 81.49 L685.82 83.48 L686.62 85.45 L687.43 87.36 L688.24 89.19 L689.04 90.92 L689.85 92.52 L690.66 93.99 L691.46 95.31 L692.27 96.49 L693.07 97.54 L693.88 98.46 L694.69 99.26 L695.49 99.94 L696.30 100.54 L697.11 101.04 L697.91 101.47 L698.72 101.83 L699.53 102.14 L700.33 102.40 L701.14 102.61 L701.95 102.80 L702.75 102.95 L703.56 103.07 L704.36 103.18 L705.17 103.27 L705.98 103.34 L706.78 103.41 L707.59 103.46 L708.40 103.50 L709.20 103.54 L710.01 103.56 L710.82 103.59 L711.62 103.61 L712.43 103.63 L713.24 103.64 L714.04 103.65 L714.85 103.66 L715.65 103.67 L716.46 103.68 L717.27 103.68 L718.07 103.69 L718.88 103.69 L719.69 103.69 L720.49 103.70 L721.30 103.70" stroke="#afdbf5" stroke-width="0.6" fill="none"/>
<rect x="655.49" y="58.96" width="2.8" height="2.8" fill="#9dd3f5"/>
<rect x="662.65" y="59.45" width="2.8" height="2.8" fill="#9dd3f5"/>
<rect x="669.80" y="61.95" width="2.8" height="2.8" fill="#9dd3f5"/>
<rect x="676.96" y="64.44" width="2.8" height="2.8" fill="#9dd3f5"/>
<rect x="684.12" y="79.39" width="2.8" height="2.8" fill="#9dd3f5"/>
<rect x="691.27" y="94.83" width="2.8" height="2.8" fill="#9dd3f5"/>
<rect x="698.43" y="103.80" width="2.8" height="2.8" fill="#9dd3f5"/>
<rect x="712.74" y="101.31" width="2.8" height="2.8" fill="#9dd3f5"/>
<rect x="719.90" y="98.32" width="2.8" height="2.8" fill="#9dd3f5"/>
<circle cx="656.89" cy="55.37" r="1.55" fill="#1f5ca6"/>
<circle cx="664.05" cy="58.36" r="1.55" fill="#1f5ca6"/>
<circle cx="671.20" cy="60.85" r="1.55" fill="#1f5ca6"/>
<circle cx="678.36" cy="68.33" r="1.55" fill="#1f5ca6"/>
<circle cx="685.52" cy="78.79" r="1.55" fill="#1f5ca6"/>
<circle cx="692.67" cy="91.75" r="1.55" fill="#1f5ca6"/>
<circle cx="699.83" cy="101.22" r="1.55" fill="#1f5ca6"/>
<circle cx="706.99" cy="105.70" r="1.55" fill="#1f5ca6"/>
<circle cx="714.14" cy="98.23" r="1.55" fill="#1f5ca6"/>
<circle cx="721.30" cy="89.26" r="1.55" fill="#1f5ca6"/>
<path d="M26.80 202.30 V260.70 H115.30" stroke="#3a3a3a" stroke-width="1.1" fill="none"/>
<path d="M24.80 260.70 H26.80" stroke="#3a3a3a" stroke-width="0.7"/>
<text x="23.80" y="262.30" font-size="4.6" text-anchor="end" font-family='"Liberation Sans", sans-serif' font-weight="bold" fill="#1a1a1a">0</text>
<path d="M24.80 250.97 H26.80" stroke="#3a3a3a" stroke-width="0.7"/>
<text x="23.80" y="252.57" font-size="4.6" text-anchor="end" font-family='"Liberation Sans", sans-serif' font-weight="bold" fill="#1a1a1a">20</text>
<path d="M24.80 241.23 H26.80" stroke="#3a3a3a" stroke-width="0.7"/>
<text x="23.80" y="242.83" font-size="4.6" text-anchor="end" font-family='"Liberation Sans", sans-serif' font-weight="bold" fill="#1a1a1a">40</text>
<path d="M24.80 231.50 H26.80" stroke="#3a3a3a" stroke-width="0.7"/>
<text x="23.80" y="233.10" font-size="4.6" text-anchor="end" font-family='"Liberation Sans", sans-serif' font-weight="bold" fill="#1a1a1a">60</text>
<path d="M24.80 221.77 H26.80" stroke="#3a3a3a" stroke-width="0.7"/>
<text x="23.80" y="223.37" font-size="4.6" text-anchor="end" font-family='"Liberation Sans", sans-serif' font-weight="bold" fill="#1a1a1a">80</text>
<path d="M24.80 212.03 H26.80" stroke="#3a3a3a" stroke-width="0.7"/>
<text x="23.80" y="213.63" font-size="4.6" text-anchor="end" font-family='"Liberation Sans", sans-serif' font-weight="bold" fill="#1a1a1a">100</text>
<path d="M24.80 202.30 H26.80" stroke="#3a3a3a" stroke-width="0.7"/>
<text x="23.80" y="203.90" font-size="4.6" text-anchor="end" font-family='"Liberation Sans", sans-serif' font-weight="bold" fill="#1a1a1a">120</text>
<path d="M26.80 260.70 V262.70" stroke="#3a3a3a" stroke-width="0.7"/>
<text x="26.80" y="268.10" font-size="4.6" text-anchor="middle" font-family='"Liberation Sans", sans-serif' font-weight="bold" fill="#1a1a1a">0.01</text>
<path d="M41.55 260.70 V262.70" stroke="#3a3a3a" stroke-width="0.7"/>
<text x="41.55" y="268.10" font-size="4.6" text-anchor="middle" font-family='"Liberation Sans", sans-serif' font-weight="bold" fill="#1a1a1a">0.1</text>
<path d="M56.30 260.70 V262.70" stroke="#3a3a3a" stroke-width="0.7"/>
<text x="56.30" y="268.10" font-size="4.6" text-anchor="middle" font-family='"Liberation Sans", sans-serif' font-weight="bold" fill="#1a1a1a">1</text>
<path d="M71.05 260.70 V262.70" stroke="#3a3a3a" stroke-width="0.7"/>
<text x="71.05" y="268.10" font-size="4.6" text-anchor="middle" font-family='"Liberation Sans", sans-serif' font-weight="bold" fill="#1a1a1a">10</text>
<path d="M85.80 260.70 V262.70" stroke="#3a3a3a" stroke-width="0.7"/>
<text x="85.80" y="268.10" font-size="4.6" text-anchor="middle" font-family='"Liberation Sans", sans-serif' font-weight="bold" fill="#1a1a1a">100</text>
<path d="M100.55 260.70 V262.70" stroke="#3a3a3a" stroke-width="0.7"/>
<text x="100.55" y="268.10" font-size="4.6" text-anchor="middle" font-family='"Liberation Sans", sans-serif' font-weight="bold" fill="#1a1a1a">1000</text>
<path d="M115.30 260.70 V262.70" stroke="#3a3a3a" stroke-width="0.7"/>
<text x="115.30" y="268.10" font-size="4.6" text-anchor="middle" font-family='"Liberation Sans", sans-serif' font-weight="bold" fill="#1a1a1a">10000</text>
<text x="71.05" y="276.20" font-size="5.1" text-anchor="middle" font-family='"Liberation Sans", sans-serif' font-weight="bold" fill="#1a1a1a" textLength="45.5" lengthAdjust="spacingAndGlyphs">Concentration (nM)</text>
<text x="12.90" y="232.00" font-size="4.9" text-anchor="middle" font-family='"Liberation Sans", sans-serif' font-weight="bold" fill="#1a1a1a" transform="rotate(-90 12.90 232.00)">Remaining activity %</text>
<text x="70.30" y="194.00" font-size="6.1" text-anchor="middle" font-family='"Liberation Sans", sans-serif' font-weight="bold" fill="#111" stroke="#111" stroke-width="0.12">AM1</text>
<path d="M37.11 212.03 L65.18 212.03 L72.22 209.11 L100.55 208.63" stroke="#7ea8d2" stroke-width="0.6" fill="none"/>
<path d="M37.11 211.55 L71.05 211.55 L72.22 211.55 L100.55 211.55" stroke="#afdbf5" stroke-width="0.6" fill="none"/>
<rect x="35.81" y="210.15" width="2.8" height="2.8" fill="#9dd3f5"/>
<path d="M44.25 211.55 V216.41 M43.25 211.55 H45.25 M43.25 216.41 H45.25" stroke="#afdbf5" stroke-width="0.5" fill="none"/>
<rect x="42.85" y="212.58" width="2.8" height="2.8" fill="#9dd3f5"/>
<path d="M51.29 210.57 V218.36 M50.29 210.57 H52.29 M50.29 218.36 H52.29" stroke="#afdbf5" stroke-width="0.5" fill="none"/>
<rect x="49.89" y="213.07" width="2.8" height="2.8" fill="#9dd3f5"/>
<path d="M58.32 209.11 V214.95 M57.32 209.11 H59.32 M57.32 214.95 H59.32" stroke="#afdbf5" stroke-width="0.5" fill="none"/>
<rect x="56.92" y="210.63" width="2.8" height="2.8" fill="#9dd3f5"/>
<path d="M65.36 209.60 V216.41 M64.36 209.60 H66.36 M64.36 216.41 H66.36" stroke="#afdbf5" stroke-width="0.5" fill="none"/>
<rect x="63.96" y="211.61" width="2.8" height="2.8" fill="#9dd3f5"/>
<path d="M72.40 203.76 V208.63 M71.40 203.76 H73.40 M71.40 208.63 H73.40" stroke="#afdbf5" stroke-width="0.5" fill="none"/>
<rect x="71.00" y="204.79" width="2.8" height="2.8" fill="#9dd3f5"/>
<path d="M79.44 206.68 V210.57 M78.44 206.68 H80.44 M78.44 210.57 H80.44" stroke="#afdbf5" stroke-width="0.5" fill="none"/>
<rect x="78.04" y="207.23" width="2.8" height="2.8" fill="#9dd3f5"/>
<path d="M86.47 212.52 V217.39 M85.47 212.52 H87.47 M85.47 217.39 H87.47" stroke="#afdbf5" stroke-width="0.5" fill="none"/>
<rect x="85.07" y="213.55" width="2.8" height="2.8" fill="#9dd3f5"/>
<path d="M93.51 210.57 V218.36 M92.51 210.57 H94.51 M92.51 218.36 H94.51" stroke="#afdbf5" stroke-width="0.5" fill="none"/>
<rect x="92.11" y="213.07" width="2.8" height="2.8" fill="#9dd3f5"/>
<path d="M100.55 205.22 V214.95 M99.55 205.22 H101.55 M99.55 214.95 H101.55" stroke="#afdbf5" stroke-width="0.5" fill="none"/>
<rect x="99.15" y="208.69" width="2.8" height="2.8" fill="#9dd3f5"/>
<path d="M37.21 212.03 V213.98 M36.21 212.03 H38.21 M36.21 213.98 H38.21" stroke="#7ea8d2" stroke-width="0.5" fill="none"/>
<circle cx="37.21" cy="213.01" r="1.55" fill="#1f5ca6"/>
<path d="M44.25 209.11 V213.01 M43.25 209.11 H45.25 M43.25 213.01 H45.25" stroke="#7ea8d2" stroke-width="0.5" fill="none"/>
<circle cx="44.25" cy="211.06" r="1.55" fill="#1f5ca6"/>
<path d="M51.29 207.65 V215.44 M50.29 207.65 H52.29 M50.29 215.44 H52.29" stroke="#7ea8d2" stroke-width="0.5" fill="none"/>
<circle cx="51.29" cy="211.55" r="1.55" fill="#1f5ca6"/>
<path d="M58.32 209.11 V215.93 M57.32 209.11 H59.32 M57.32 215.93 H59.32" stroke="#7ea8d2" stroke-width="0.5" fill="none"/>
<circle cx="58.32" cy="212.52" r="1.55" fill="#1f5ca6"/>
<path d="M65.36 209.60 V216.41 M64.36 209.60 H66.36 M64.36 216.41 H66.36" stroke="#7ea8d2" stroke-width="0.5" fill="none"/>
<circle cx="65.36" cy="213.01" r="1.55" fill="#1f5ca6"/>
<path d="M72.40 207.65 V211.55 M71.40 207.65 H73.40 M71.40 211.55 H73.40" stroke="#7ea8d2" stroke-width="0.5" fill="none"/>
<circle cx="72.40" cy="209.60" r="1.55" fill="#1f5ca6"/>
<path d="M79.44 206.68 V210.57 M78.44 206.68 H80.44 M78.44 210.57 H80.44" stroke="#7ea8d2" stroke-width="0.5" fill="none"/>
<circle cx="79.44" cy="208.63" r="1.55" fill="#1f5ca6"/>
<path d="M86.47 205.71 V210.57 M85.47 205.71 H87.47 M85.47 210.57 H87.47" stroke="#7ea8d2" stroke-width="0.5" fill="none"/>
<circle cx="86.47" cy="208.14" r="1.55" fill="#1f5ca6"/>
<path d="M93.51 207.17 V213.01 M92.51 207.17 H94.51 M92.51 213.01 H94.51" stroke="#7ea8d2" stroke-width="0.5" fill="none"/>
<circle cx="93.51" cy="210.09" r="1.55" fill="#1f5ca6"/>
<path d="M100.55 203.76 V212.52 M99.55 203.76 H101.55 M99.55 212.52 H101.55" stroke="#7ea8d2" stroke-width="0.5" fill="none"/>
<circle cx="100.55" cy="208.14" r="1.55" fill="#1f5ca6"/>
<path d="M150.30 202.20 V261.60 H240.00" stroke="#3a3a3a" stroke-width="1.1" fill="none"/>
<path d="M148.30 261.60 H150.30" stroke="#3a3a3a" stroke-width="0.7"/>
<text x="147.30" y="263.20" font-size="4.6" text-anchor="end" font-family='"Liberation Sans", sans-serif' font-weight="bold" fill="#1a1a1a">0</text>
<path d="M148.30 251.70 H150.30" stroke="#3a3a3a" stroke-width="0.7"/>
<text x="147.30" y="253.30" font-size="4.6" text-anchor="end" font-family='"Liberation Sans", sans-serif' font-weight="bold" fill="#1a1a1a">20</text>
<path d="M148.30 241.80 H150.30" stroke="#3a3a3a" stroke-width="0.7"/>
<text x="147.30" y="243.40" font-size="4.6" text-anchor="end" font-family='"Liberation Sans", sans-serif' font-weight="bold" fill="#1a1a1a">40</text>
<path d="M148.30 231.90 H150.30" stroke="#3a3a3a" stroke-width="0.7"/>
<text x="147.30" y="233.50" font-size="4.6" text-anchor="end" font-family='"Liberation Sans", sans-serif' font-weight="bold" fill="#1a1a1a">60</text>
<path d="M148.30 222.00 H150.30" stroke="#3a3a3a" stroke-width="0.7"/>
<text x="147.30" y="223.60" font-size="4.6" text-anchor="end" font-family='"Liberation Sans", sans-serif' font-weight="bold" fill="#1a1a1a">80</text>
<path d="M148.30 212.10 H150.30" stroke="#3a3a3a" stroke-width="0.7"/>
<text x="147.30" y="213.70" font-size="4.6" text-anchor="end" font-family='"Liberation Sans", sans-serif' font-weight="bold" fill="#1a1a1a">100</text>
<path d="M148.30 202.20 H150.30" stroke="#3a3a3a" stroke-width="0.7"/>
<text x="147.30" y="203.80" font-size="4.6" text-anchor="end" font-family='"Liberation Sans", sans-serif' font-weight="bold" fill="#1a1a1a">120</text>
<path d="M150.30 261.60 V263.60" stroke="#3a3a3a" stroke-width="0.7"/>
<text x="150.30" y="269.00" font-size="4.6" text-anchor="middle" font-family='"Liberation Sans", sans-serif' font-weight="bold" fill="#1a1a1a">0.01</text>
<path d="M165.25 261.60 V263.60" stroke="#3a3a3a" stroke-width="0.7"/>
<text x="165.25" y="269.00" font-size="4.6" text-anchor="middle" font-family='"Liberation Sans", sans-serif' font-weight="bold" fill="#1a1a1a">0.1</text>
<path d="M180.20 261.60 V263.60" stroke="#3a3a3a" stroke-width="0.7"/>
<text x="180.20" y="269.00" font-size="4.6" text-anchor="middle" font-family='"Liberation Sans", sans-serif' font-weight="bold" fill="#1a1a1a">1</text>
<path d="M195.15 261.60 V263.60" stroke="#3a3a3a" stroke-width="0.7"/>
<text x="195.15" y="269.00" font-size="4.6" text-anchor="middle" font-family='"Liberation Sans", sans-serif' font-weight="bold" fill="#1a1a1a">10</text>
<path d="M210.10 261.60 V263.60" stroke="#3a3a3a" stroke-width="0.7"/>
<text x="210.10" y="269.00" font-size="4.6" text-anchor="middle" font-family='"Liberation Sans", sans-serif' font-weight="bold" fill="#1a1a1a">100</text>
<path d="M225.05 261.60 V263.60" stroke="#3a3a3a" stroke-width="0.7"/>
<text x="225.05" y="269.00" font-size="4.6" text-anchor="middle" font-family='"Liberation Sans", sans-serif' font-weight="bold" fill="#1a1a1a">1000</text>
<path d="M240.00 261.60 V263.60" stroke="#3a3a3a" stroke-width="0.7"/>
<text x="240.00" y="269.00" font-size="4.6" text-anchor="middle" font-family='"Liberation Sans", sans-serif' font-weight="bold" fill="#1a1a1a">10000</text>
<text x="195.15" y="277.10" font-size="5.1" text-anchor="middle" font-family='"Liberation Sans", sans-serif' font-weight="bold" fill="#1a1a1a" textLength="45.5" lengthAdjust="spacingAndGlyphs">Concentration (nM)</text>
<text x="137.10" y="232.40" font-size="4.9" text-anchor="middle" font-family='"Liberation Sans", sans-serif' font-weight="bold" fill="#1a1a1a" transform="rotate(-90 137.10 232.40)">Remaining activity %</text>
<text x="194.60" y="194.00" font-size="6.1" text-anchor="middle" font-family='"Liberation Sans", sans-serif' font-weight="bold" fill="#111" stroke="#111" stroke-width="0.12">AM2</text>
<path d="M160.75 215.67 L161.55 215.69 L162.36 215.70 L163.16 215.73 L163.96 215.75 L164.77 215.78 L165.57 215.82 L166.38 215.86 L167.18 215.90 L167.98 215.96 L168.79 216.02 L169.59 216.09 L170.39 216.17 L171.20 216.27 L172.00 216.37 L172.81 216.50 L173.61 216.64 L174.41 216.81 L175.22 217.00 L176.02 217.21 L176.82 217.46 L177.63 217.73 L178.43 218.05 L179.24 218.40 L180.04 218.80 L180.84 219.25 L181.65 219.74 L182.45 220.29 L183.25 220.89 L184.06 221.55 L184.86 222.27 L185.67 223.04 L186.47 223.85 L187.27 224.72 L188.08 225.62 L188.88 226.56 L189.68 227.52 L190.49 228.49 L191.29 229.46 L192.10 230.43 L192.90 231.37 L193.70 232.29 L194.51 233.17 L195.31 234.01 L196.11 234.80 L196.92 235.53 L197.72 236.21 L198.53 236.84 L199.33 237.41 L200.13 237.93 L200.94 238.39 L201.74 238.81 L202.54 239.18 L203.35 239.51 L204.15 239.80 L204.96 240.06 L205.76 240.29 L206.56 240.48 L207.37 240.66 L208.17 240.81 L208.97 240.94 L209.78 241.06 L210.58 241.16 L211.39 241.24 L212.19 241.32 L212.99 241.38 L213.80 241.44 L214.60 241.49 L215.40 241.53 L216.21 241.57 L217.01 241.60 L217.82 241.63 L218.62 241.65 L219.42 241.67 L220.23 241.69 L221.03 241.70 L221.83 241.72 L222.64 241.73 L223.44 241.74 L224.25 241.75 L225.05 241.75" stroke="#7ea8d2" stroke-width="0.6" fill="none"/>
<path d="M160.75 215.04 L161.55 215.10 L162.36 215.17 L163.16 215.24 L163.96 215.33 L164.77 215.43 L165.57 215.54 L166.38 215.66 L167.18 215.80 L167.98 215.96 L168.79 216.13 L169.59 216.32 L170.39 216.54 L171.20 216.79 L172.00 217.06 L172.81 217.36 L173.61 217.70 L174.41 218.07 L175.22 218.49 L176.02 218.94 L176.82 219.44 L177.63 219.99 L178.43 220.59 L179.24 221.24 L180.04 221.95 L180.84 222.71 L181.65 223.53 L182.45 224.40 L183.25 225.33 L184.06 226.30 L184.86 227.32 L185.67 228.39 L186.47 229.49 L187.27 230.61 L188.08 231.76 L188.88 232.92 L189.68 234.09 L190.49 235.24 L191.29 236.39 L192.10 237.51 L192.90 238.60 L193.70 239.66 L194.51 240.67 L195.31 241.64 L196.11 242.55 L196.92 243.41 L197.72 244.22 L198.53 244.97 L199.33 245.66 L200.13 246.30 L200.94 246.89 L201.74 247.43 L202.54 247.92 L203.35 248.37 L204.15 248.78 L204.96 249.14 L205.76 249.47 L206.56 249.77 L207.37 250.03 L208.17 250.27 L208.97 250.49 L209.78 250.68 L210.58 250.85 L211.39 251.00 L212.19 251.14 L212.99 251.26 L213.80 251.36 L214.60 251.46 L215.40 251.54 L216.21 251.62 L217.01 251.68 L217.82 251.74 L218.62 251.79 L219.42 251.84 L220.23 251.88 L221.03 251.92 L221.83 251.95 L222.64 251.98 L223.44 252.00 L224.25 252.03 L225.05 252.05" stroke="#afdbf5" stroke-width="0.6" fill="none"/>
<path d="M160.85 209.13 V216.06 M159.85 209.13 H161.85 M159.85 216.06 H161.85" stroke="#afdbf5" stroke-width="0.5" fill="none"/>
<rect x="159.45" y="211.19" width="2.8" height="2.8" fill="#9dd3f5"/>
<rect x="166.59" y="213.17" width="2.8" height="2.8" fill="#9dd3f5"/>
<rect x="173.72" y="216.64" width="2.8" height="2.8" fill="#9dd3f5"/>
<rect x="180.85" y="222.09" width="2.8" height="2.8" fill="#9dd3f5"/>
<rect x="187.99" y="229.51" width="2.8" height="2.8" fill="#9dd3f5"/>
<rect x="195.12" y="238.42" width="2.8" height="2.8" fill="#9dd3f5"/>
<rect x="202.25" y="246.84" width="2.8" height="2.8" fill="#9dd3f5"/>
<rect x="209.38" y="249.81" width="2.8" height="2.8" fill="#9dd3f5"/>
<rect x="216.52" y="250.30" width="2.8" height="2.8" fill="#9dd3f5"/>
<rect x="223.65" y="250.30" width="2.8" height="2.8" fill="#9dd3f5"/>
<path d="M160.85 214.08 V219.03 M159.85 214.08 H161.85 M159.85 219.03 H161.85" stroke="#7ea8d2" stroke-width="0.5" fill="none"/>
<circle cx="160.85" cy="216.56" r="1.55" fill="#1f5ca6"/>
<circle cx="167.99" cy="214.08" r="1.55" fill="#1f5ca6"/>
<circle cx="175.12" cy="218.04" r="1.55" fill="#1f5ca6"/>
<circle cx="182.25" cy="221.01" r="1.55" fill="#1f5ca6"/>
<circle cx="189.39" cy="225.96" r="1.55" fill="#1f5ca6"/>
<circle cx="196.52" cy="233.88" r="1.55" fill="#1f5ca6"/>
<circle cx="203.65" cy="238.83" r="1.55" fill="#1f5ca6"/>
<path d="M210.78 240.32 V244.28 M209.78 240.32 H211.78 M209.78 244.28 H211.78" stroke="#7ea8d2" stroke-width="0.5" fill="none"/>
<circle cx="210.78" cy="242.30" r="1.55" fill="#1f5ca6"/>
<circle cx="217.92" cy="242.30" r="1.55" fill="#1f5ca6"/>
<circle cx="225.05" cy="239.82" r="1.55" fill="#1f5ca6"/>
<clipPath id="clip_AM6"><rect x="0" y="0" width="365.5" height="590"/></clipPath><g clip-path="url(#clip_AM6)">
<path d="M278.90 202.10 V261.80 H368.30" stroke="#3a3a3a" stroke-width="1.1" fill="none"/>
<path d="M276.90 261.80 H278.90" stroke="#3a3a3a" stroke-width="0.7"/>
<text x="275.90" y="263.40" font-size="4.6" text-anchor="end" font-family='"Liberation Sans", sans-serif' font-weight="bold" fill="#1a1a1a">0</text>
<path d="M276.90 251.85 H278.90" stroke="#3a3a3a" stroke-width="0.7"/>
<text x="275.90" y="253.45" font-size="4.6" text-anchor="end" font-family='"Liberation Sans", sans-serif' font-weight="bold" fill="#1a1a1a">20</text>
<path d="M276.90 241.90 H278.90" stroke="#3a3a3a" stroke-width="0.7"/>
<text x="275.90" y="243.50" font-size="4.6" text-anchor="end" font-family='"Liberation Sans", sans-serif' font-weight="bold" fill="#1a1a1a">40</text>
<path d="M276.90 231.95 H278.90" stroke="#3a3a3a" stroke-width="0.7"/>
<text x="275.90" y="233.55" font-size="4.6" text-anchor="end" font-family='"Liberation Sans", sans-serif' font-weight="bold" fill="#1a1a1a">60</text>
<path d="M276.90 222.00 H278.90" stroke="#3a3a3a" stroke-width="0.7"/>
<text x="275.90" y="223.60" font-size="4.6" text-anchor="end" font-family='"Liberation Sans", sans-serif' font-weight="bold" fill="#1a1a1a">80</text>
<path d="M276.90 212.05 H278.90" stroke="#3a3a3a" stroke-width="0.7"/>
<text x="275.90" y="213.65" font-size="4.6" text-anchor="end" font-family='"Liberation Sans", sans-serif' font-weight="bold" fill="#1a1a1a">100</text>
<path d="M276.90 202.10 H278.90" stroke="#3a3a3a" stroke-width="0.7"/>
<text x="275.90" y="203.70" font-size="4.6" text-anchor="end" font-family='"Liberation Sans", sans-serif' font-weight="bold" fill="#1a1a1a">120</text>
<path d="M278.90 261.80 V263.80" stroke="#3a3a3a" stroke-width="0.7"/>
<text x="278.90" y="269.20" font-size="4.6" text-anchor="middle" font-family='"Liberation Sans", sans-serif' font-weight="bold" fill="#1a1a1a">0.01</text>
<path d="M293.80 261.80 V263.80" stroke="#3a3a3a" stroke-width="0.7"/>
<text x="293.80" y="269.20" font-size="4.6" text-anchor="middle" font-family='"Liberation Sans", sans-serif' font-weight="bold" fill="#1a1a1a">0.1</text>
<path d="M308.70 261.80 V263.80" stroke="#3a3a3a" stroke-width="0.7"/>
<text x="308.70" y="269.20" font-size="4.6" text-anchor="middle" font-family='"Liberation Sans", sans-serif' font-weight="bold" fill="#1a1a1a">1</text>
<path d="M323.60 261.80 V263.80" stroke="#3a3a3a" stroke-width="0.7"/>
<text x="323.60" y="269.20" font-size="4.6" text-anchor="middle" font-family='"Liberation Sans", sans-serif' font-weight="bold" fill="#1a1a1a">10</text>
<path d="M338.50 261.80 V263.80" stroke="#3a3a3a" stroke-width="0.7"/>
<text x="338.50" y="269.20" font-size="4.6" text-anchor="middle" font-family='"Liberation Sans", sans-serif' font-weight="bold" fill="#1a1a1a">100</text>
<path d="M353.40 261.80 V263.80" stroke="#3a3a3a" stroke-width="0.7"/>
<text x="353.40" y="269.20" font-size="4.6" text-anchor="middle" font-family='"Liberation Sans", sans-serif' font-weight="bold" fill="#1a1a1a">1000</text>
<path d="M368.30 261.80 V263.80" stroke="#3a3a3a" stroke-width="0.7"/>
<text x="368.30" y="269.20" font-size="4.6" text-anchor="middle" font-family='"Liberation Sans", sans-serif' font-weight="bold" fill="#1a1a1a">10000</text>
<text x="323.60" y="277.30" font-size="5.1" text-anchor="middle" font-family='"Liberation Sans", sans-serif' font-weight="bold" fill="#1a1a1a" textLength="45.5" lengthAdjust="spacingAndGlyphs">Concentration (nM)</text>
<text x="266.00" y="232.45" font-size="4.9" text-anchor="middle" font-family='"Liberation Sans", sans-serif' font-weight="bold" fill="#1a1a1a" transform="rotate(-90 266.00 232.45)">Remaining activity %</text>
<text x="323.80" y="194.00" font-size="6.1" text-anchor="middle" font-family='"Liberation Sans", sans-serif' font-weight="bold" fill="#111" stroke="#111" stroke-width="0.12">AM6</text>
<path d="M289.31 213.77 L290.12 213.79 L290.92 213.82 L291.72 213.86 L292.52 213.89 L293.32 213.93 L294.12 213.98 L294.92 214.03 L295.72 214.08 L296.52 214.14 L297.33 214.21 L298.13 214.29 L298.93 214.37 L299.73 214.47 L300.53 214.57 L301.33 214.69 L302.13 214.82 L302.93 214.96 L303.73 215.11 L304.53 215.28 L305.34 215.47 L306.14 215.67 L306.94 215.90 L307.74 216.14 L308.54 216.41 L309.34 216.70 L310.14 217.01 L310.94 217.35 L311.74 217.71 L312.55 218.10 L313.35 218.51 L314.15 218.95 L314.95 219.42 L315.75 219.91 L316.55 220.42 L317.35 220.96 L318.15 221.52 L318.95 222.09 L319.76 222.68 L320.56 223.27 L321.36 223.88 L322.16 224.49 L322.96 225.10 L323.76 225.70 L324.56 226.30 L325.36 226.89 L326.16 227.46 L326.96 228.02 L327.77 228.55 L328.57 229.07 L329.37 229.56 L330.17 230.02 L330.97 230.47 L331.77 230.88 L332.57 231.27 L333.37 231.63 L334.17 231.97 L334.98 232.28 L335.78 232.57 L336.58 232.84 L337.38 233.08 L338.18 233.30 L338.98 233.51 L339.78 233.70 L340.58 233.87 L341.38 234.02 L342.19 234.16 L342.99 234.29 L343.79 234.40 L344.59 234.51 L345.39 234.60 L346.19 234.69 L346.99 234.76 L347.79 234.83 L348.59 234.89 L349.39 234.95 L350.20 235.00 L351.00 235.04 L351.80 235.08 L352.60 235.12 L353.40 235.15" stroke="#7ea8d2" stroke-width="0.6" fill="none"/>
<path d="M289.31 212.44 L290.12 212.49 L290.92 212.55 L291.72 212.61 L292.52 212.68 L293.32 212.77 L294.12 212.86 L294.92 212.96 L295.72 213.08 L296.52 213.21 L297.33 213.36 L298.13 213.53 L298.93 213.71 L299.73 213.92 L300.53 214.15 L301.33 214.42 L302.13 214.71 L302.93 215.03 L303.73 215.39 L304.53 215.79 L305.34 216.23 L306.14 216.71 L306.94 217.25 L307.74 217.83 L308.54 218.47 L309.34 219.16 L310.14 219.91 L310.94 220.72 L311.74 221.58 L312.55 222.50 L313.35 223.48 L314.15 224.51 L314.95 225.59 L315.75 226.70 L316.55 227.86 L317.35 229.04 L318.15 230.24 L318.95 231.46 L319.76 232.67 L320.56 233.88 L321.36 235.07 L322.16 236.24 L322.96 237.37 L323.76 238.47 L324.56 239.52 L325.36 240.51 L326.16 241.46 L326.96 242.35 L327.77 243.18 L328.57 243.95 L329.37 244.66 L330.17 245.32 L330.97 245.93 L331.77 246.48 L332.57 246.99 L333.37 247.44 L334.17 247.86 L334.98 248.23 L335.78 248.57 L336.58 248.87 L337.38 249.15 L338.18 249.39 L338.98 249.61 L339.78 249.80 L340.58 249.98 L341.38 250.13 L342.19 250.27 L342.99 250.39 L343.79 250.50 L344.59 250.60 L345.39 250.69 L346.19 250.76 L346.99 250.83 L347.79 250.89 L348.59 250.94 L349.39 250.99 L350.20 251.03 L351.00 251.07 L351.80 251.10 L352.60 251.13 L353.40 251.16" stroke="#afdbf5" stroke-width="0.6" fill="none"/>
<path d="M289.31 212.84 L290.12 212.87 L290.92 212.92 L291.72 212.96 L292.52 213.02 L293.32 213.08 L294.12 213.15 L294.92 213.22 L295.72 213.31 L296.52 213.41 L297.33 213.52 L298.13 213.64 L298.93 213.78 L299.73 213.94 L300.53 214.12 L301.33 214.31 L302.13 214.53 L302.93 214.78 L303.73 215.05 L304.53 215.35 L305.34 215.69 L306.14 216.06 L306.94 216.47 L307.74 216.92 L308.54 217.42 L309.34 217.96 L310.14 218.55 L310.94 219.19 L311.74 219.88 L312.55 220.62 L313.35 221.42 L314.15 222.26 L314.95 223.15 L315.75 224.09 L316.55 225.06 L317.35 226.07 L318.15 227.10 L318.95 228.16 L319.76 229.23 L320.56 230.31 L321.36 231.39 L322.16 232.45 L322.96 233.50 L323.76 234.51 L324.56 235.50 L325.36 236.45 L326.16 237.36 L326.96 238.22 L327.77 239.03 L328.57 239.79 L329.37 240.50 L330.17 241.15 L330.97 241.76 L331.77 242.32 L332.57 242.83 L333.37 243.30 L334.17 243.72 L334.98 244.11 L335.78 244.46 L336.58 244.77 L337.38 245.05 L338.18 245.31 L338.98 245.53 L339.78 245.74 L340.58 245.92 L341.38 246.08 L342.19 246.23 L342.99 246.36 L343.79 246.47 L344.59 246.58 L345.39 246.67 L346.19 246.75 L346.99 246.82 L347.79 246.88 L348.59 246.94 L349.39 246.99 L350.20 247.03 L351.00 247.07 L351.80 247.11 L352.60 247.14 L353.40 247.16" stroke="#c4759a" stroke-width="0.6" fill="none"/>
<path d="M289.42 208.57 V214.54 M288.42 208.57 H290.42 M288.42 214.54 H290.42" stroke="#afdbf5" stroke-width="0.5" fill="none"/>
<rect x="288.02" y="210.15" width="2.8" height="2.8" fill="#9dd3f5"/>
<rect x="295.13" y="211.15" width="2.8" height="2.8" fill="#9dd3f5"/>
<path d="M303.64 215.53 V221.50 M302.64 215.53 H304.64 M302.64 221.50 H304.64" stroke="#afdbf5" stroke-width="0.5" fill="none"/>
<rect x="302.24" y="217.12" width="2.8" height="2.8" fill="#9dd3f5"/>
<path d="M310.75 221.00 V224.99 M309.75 221.00 H311.75 M309.75 224.99 H311.75" stroke="#afdbf5" stroke-width="0.5" fill="none"/>
<rect x="309.35" y="221.59" width="2.8" height="2.8" fill="#9dd3f5"/>
<path d="M317.85 228.97 V231.95 M316.85 228.97 H318.85 M316.85 231.95 H318.85" stroke="#afdbf5" stroke-width="0.5" fill="none"/>
<rect x="316.45" y="229.06" width="2.8" height="2.8" fill="#9dd3f5"/>
<path d="M324.96 235.93 V239.91 M323.96 235.93 H325.96 M323.96 239.91 H325.96" stroke="#afdbf5" stroke-width="0.5" fill="none"/>
<rect x="323.56" y="236.52" width="2.8" height="2.8" fill="#9dd3f5"/>
<path d="M332.07 243.89 V246.88 M331.07 243.89 H333.07 M331.07 246.88 H333.07" stroke="#afdbf5" stroke-width="0.5" fill="none"/>
<rect x="330.67" y="243.98" width="2.8" height="2.8" fill="#9dd3f5"/>
<rect x="337.78" y="248.46" width="2.8" height="2.8" fill="#9dd3f5"/>
<rect x="344.89" y="249.46" width="2.8" height="2.8" fill="#9dd3f5"/>
<rect x="352.00" y="249.95" width="2.8" height="2.8" fill="#9dd3f5"/>
<path d="M289.42 208.57 V215.53 M288.42 208.57 H290.42 M288.42 215.53 H290.42" stroke="#c4759a" stroke-width="0.5" fill="none"/>
<path d="M289.42 210.45 L291.02 213.33 L287.82 213.33Z" fill="#a31f5c"/>
<path d="M303.64 216.53 V223.49 M302.64 216.53 H304.64 M302.64 223.49 H304.64" stroke="#c4759a" stroke-width="0.5" fill="none"/>
<path d="M303.64 218.41 L305.24 221.29 L302.04 221.29Z" fill="#a31f5c"/>
<path d="M310.75 220.01 V224.99 M309.75 220.01 H311.75 M309.75 224.99 H311.75" stroke="#c4759a" stroke-width="0.5" fill="none"/>
<path d="M310.75 220.90 L312.35 223.78 L309.15 223.78Z" fill="#a31f5c"/>
<path d="M317.85 227.37 L319.45 230.25 L316.25 230.25Z" fill="#a31f5c"/>
<path d="M324.96 234.33 L326.56 237.21 L323.36 237.21Z" fill="#a31f5c"/>
<path d="M332.07 241.30 L333.67 244.18 L330.47 244.18Z" fill="#a31f5c"/>
<path d="M339.18 244.78 L340.78 247.66 L337.58 247.66Z" fill="#a31f5c"/>
<path d="M346.29 246.77 L347.89 249.65 L344.69 249.65Z" fill="#a31f5c"/>
<path d="M353.40 244.88 V247.87 M352.40 244.88 H354.40 M352.40 247.87 H354.40" stroke="#c4759a" stroke-width="0.5" fill="none"/>
<path d="M353.40 244.78 L355.00 247.66 L351.80 247.66Z" fill="#a31f5c"/>
<path d="M289.42 211.05 V216.03 M288.42 211.05 H290.42 M288.42 216.03 H290.42" stroke="#7ea8d2" stroke-width="0.5" fill="none"/>
<circle cx="289.42" cy="213.54" r="1.55" fill="#1f5ca6"/>
<circle cx="296.53" cy="216.53" r="1.55" fill="#1f5ca6"/>
<circle cx="303.64" cy="218.02" r="1.55" fill="#1f5ca6"/>
<circle cx="310.75" cy="221.00" r="1.55" fill="#1f5ca6"/>
<circle cx="317.85" cy="223.49" r="1.55" fill="#1f5ca6"/>
<circle cx="324.96" cy="228.97" r="1.55" fill="#1f5ca6"/>
<path d="M332.07 228.96 V233.94 M331.07 228.96 H333.07 M331.07 233.94 H333.07" stroke="#7ea8d2" stroke-width="0.5" fill="none"/>
<circle cx="332.07" cy="231.45" r="1.55" fill="#1f5ca6"/>
<circle cx="339.18" cy="234.94" r="1.55" fill="#1f5ca6"/>
<path d="M346.29 231.95 V236.93 M345.29 231.95 H347.29 M345.29 236.93 H347.29" stroke="#7ea8d2" stroke-width="0.5" fill="none"/>
<circle cx="346.29" cy="234.44" r="1.55" fill="#1f5ca6"/>
<path d="M353.40 231.95 V236.93 M352.40 231.95 H354.40 M352.40 236.93 H354.40" stroke="#7ea8d2" stroke-width="0.5" fill="none"/>
<circle cx="353.40" cy="234.44" r="1.55" fill="#1f5ca6"/>
</g>
<path d="M398.70 201.50 V260.90 H488.50" stroke="#3a3a3a" stroke-width="1.1" fill="none"/>
<path d="M396.70 260.90 H398.70" stroke="#3a3a3a" stroke-width="0.7"/>
<text x="395.70" y="262.50" font-size="4.6" text-anchor="end" font-family='"Liberation Sans", sans-serif' font-weight="bold" fill="#1a1a1a">0</text>
<path d="M396.70 251.00 H398.70" stroke="#3a3a3a" stroke-width="0.7"/>
<text x="395.70" y="252.60" font-size="4.6" text-anchor="end" font-family='"Liberation Sans", sans-serif' font-weight="bold" fill="#1a1a1a">20</text>
<path d="M396.70 241.10 H398.70" stroke="#3a3a3a" stroke-width="0.7"/>
<text x="395.70" y="242.70" font-size="4.6" text-anchor="end" font-family='"Liberation Sans", sans-serif' font-weight="bold" fill="#1a1a1a">40</text>
<path d="M396.70 231.20 H398.70" stroke="#3a3a3a" stroke-width="0.7"/>
<text x="395.70" y="232.80" font-size="4.6" text-anchor="end" font-family='"Liberation Sans", sans-serif' font-weight="bold" fill="#1a1a1a">60</text>
<path d="M396.70 221.30 H398.70" stroke="#3a3a3a" stroke-width="0.7"/>
<text x="395.70" y="222.90" font-size="4.6" text-anchor="end" font-family='"Liberation Sans", sans-serif' font-weight="bold" fill="#1a1a1a">80</text>
<path d="M396.70 211.40 H398.70" stroke="#3a3a3a" stroke-width="0.7"/>
<text x="395.70" y="213.00" font-size="4.6" text-anchor="end" font-family='"Liberation Sans", sans-serif' font-weight="bold" fill="#1a1a1a">100</text>
<path d="M396.70 201.50 H398.70" stroke="#3a3a3a" stroke-width="0.7"/>
<text x="395.70" y="203.10" font-size="4.6" text-anchor="end" font-family='"Liberation Sans", sans-serif' font-weight="bold" fill="#1a1a1a">120</text>
<path d="M398.70 260.90 V262.90" stroke="#3a3a3a" stroke-width="0.7"/>
<text x="398.70" y="268.30" font-size="4.6" text-anchor="middle" font-family='"Liberation Sans", sans-serif' font-weight="bold" fill="#1a1a1a">0.01</text>
<path d="M413.67 260.90 V262.90" stroke="#3a3a3a" stroke-width="0.7"/>
<text x="413.67" y="268.30" font-size="4.6" text-anchor="middle" font-family='"Liberation Sans", sans-serif' font-weight="bold" fill="#1a1a1a">0.1</text>
<path d="M428.63 260.90 V262.90" stroke="#3a3a3a" stroke-width="0.7"/>
<text x="428.63" y="268.30" font-size="4.6" text-anchor="middle" font-family='"Liberation Sans", sans-serif' font-weight="bold" fill="#1a1a1a">1</text>
<path d="M443.60 260.90 V262.90" stroke="#3a3a3a" stroke-width="0.7"/>
<text x="443.60" y="268.30" font-size="4.6" text-anchor="middle" font-family='"Liberation Sans", sans-serif' font-weight="bold" fill="#1a1a1a">10</text>
<path d="M458.57 260.90 V262.90" stroke="#3a3a3a" stroke-width="0.7"/>
<text x="458.57" y="268.30" font-size="4.6" text-anchor="middle" font-family='"Liberation Sans", sans-serif' font-weight="bold" fill="#1a1a1a">100</text>
<path d="M473.53 260.90 V262.90" stroke="#3a3a3a" stroke-width="0.7"/>
<text x="473.53" y="268.30" font-size="4.6" text-anchor="middle" font-family='"Liberation Sans", sans-serif' font-weight="bold" fill="#1a1a1a">1000</text>
<path d="M488.50 260.90 V262.90" stroke="#3a3a3a" stroke-width="0.7"/>
<text x="488.50" y="268.30" font-size="4.6" text-anchor="middle" font-family='"Liberation Sans", sans-serif' font-weight="bold" fill="#1a1a1a">10000</text>
<text x="443.60" y="276.40" font-size="5.1" text-anchor="middle" font-family='"Liberation Sans", sans-serif' font-weight="bold" fill="#1a1a1a" textLength="45.5" lengthAdjust="spacingAndGlyphs">Concentration (nM)</text>
<text x="385.50" y="231.70" font-size="4.9" text-anchor="middle" font-family='"Liberation Sans", sans-serif' font-weight="bold" fill="#1a1a1a" transform="rotate(-90 385.50 231.70)">Remaining activity %</text>
<text x="442.90" y="193.20" font-size="6.1" text-anchor="middle" font-family='"Liberation Sans", sans-serif' font-weight="bold" fill="#111" stroke="#111" stroke-width="0.12">AM9</text>
<path d="M409.16 211.63 L409.97 211.69 L410.77 211.76 L411.58 211.84 L412.38 211.92 L413.18 212.00 L413.99 212.10 L414.79 212.20 L415.60 212.32 L416.40 212.44 L417.21 212.57 L418.01 212.71 L418.82 212.86 L419.62 213.03 L420.43 213.20 L421.23 213.40 L422.04 213.60 L422.84 213.82 L423.64 214.06 L424.45 214.31 L425.25 214.58 L426.06 214.87 L426.86 215.18 L427.67 215.51 L428.47 215.86 L429.28 216.22 L430.08 216.62 L430.89 217.03 L431.69 217.46 L432.50 217.92 L433.30 218.39 L434.11 218.89 L434.91 219.41 L435.71 219.95 L436.52 220.51 L437.32 221.09 L438.13 221.68 L438.93 222.29 L439.74 222.91 L440.54 223.54 L441.35 224.18 L442.15 224.83 L442.96 225.48 L443.76 226.13 L444.57 226.79 L445.37 227.44 L446.18 228.08 L446.98 228.72 L447.78 229.35 L448.59 229.96 L449.39 230.57 L450.20 231.15 L451.00 231.72 L451.81 232.27 L452.61 232.80 L453.42 233.31 L454.22 233.80 L455.03 234.27 L455.83 234.72 L456.64 235.15 L457.44 235.55 L458.24 235.93 L459.05 236.29 L459.85 236.63 L460.66 236.95 L461.46 237.25 L462.27 237.53 L463.07 237.80 L463.88 238.04 L464.68 238.27 L465.49 238.49 L466.29 238.69 L467.10 238.87 L467.90 239.05 L468.71 239.21 L469.51 239.35 L470.31 239.49 L471.12 239.62 L471.92 239.74 L472.73 239.84 L473.53 239.94" stroke="#7ea8d2" stroke-width="0.6" fill="none"/>
<path d="M409.16 212.70 L409.97 212.81 L410.77 212.92 L411.58 213.05 L412.38 213.20 L413.18 213.37 L413.99 213.55 L414.79 213.76 L415.60 213.99 L416.40 214.24 L417.21 214.53 L418.01 214.84 L418.82 215.19 L419.62 215.58 L420.43 216.00 L421.23 216.47 L422.04 216.98 L422.84 217.54 L423.64 218.14 L424.45 218.79 L425.25 219.50 L426.06 220.24 L426.86 221.04 L427.67 221.88 L428.47 222.77 L429.28 223.69 L430.08 224.65 L430.89 225.63 L431.69 226.64 L432.50 227.66 L433.30 228.68 L434.11 229.71 L434.91 230.72 L435.71 231.72 L436.52 232.70 L437.32 233.64 L438.13 234.55 L438.93 235.42 L439.74 236.24 L440.54 237.02 L441.35 237.75 L442.15 238.43 L442.96 239.06 L443.76 239.65 L444.57 240.18 L445.37 240.68 L446.18 241.13 L446.98 241.54 L447.78 241.91 L448.59 242.24 L449.39 242.55 L450.20 242.82 L451.00 243.06 L451.81 243.28 L452.61 243.48 L453.42 243.66 L454.22 243.81 L455.03 243.95 L455.83 244.08 L456.64 244.19 L457.44 244.29 L458.24 244.38 L459.05 244.46 L459.85 244.52 L460.66 244.59 L461.46 244.64 L462.27 244.69 L463.07 244.73 L463.88 244.77 L464.68 244.80 L465.49 244.83 L466.29 244.86 L467.10 244.88 L467.90 244.90 L468.71 244.92 L469.51 244.94 L470.31 244.95 L471.12 244.96 L471.92 244.98 L472.73 244.99 L473.53 244.99" stroke="#afdbf5" stroke-width="0.6" fill="none"/>
<path d="M409.16 210.81 L409.97 210.86 L410.77 210.92 L411.58 210.98 L412.38 211.06 L413.18 211.14 L413.99 211.23 L414.79 211.34 L415.60 211.46 L416.40 211.59 L417.21 211.74 L418.01 211.91 L418.82 212.09 L419.62 212.30 L420.43 212.54 L421.23 212.79 L422.04 213.08 L422.84 213.40 L423.64 213.76 L424.45 214.15 L425.25 214.57 L426.06 215.04 L426.86 215.56 L427.67 216.11 L428.47 216.72 L429.28 217.37 L430.08 218.07 L430.89 218.81 L431.69 219.61 L432.50 220.44 L433.30 221.31 L434.11 222.22 L434.91 223.16 L435.71 224.13 L436.52 225.11 L437.32 226.10 L438.13 227.10 L438.93 228.09 L439.74 229.07 L440.54 230.03 L441.35 230.96 L442.15 231.86 L442.96 232.73 L443.76 233.55 L444.57 234.34 L445.37 235.07 L446.18 235.76 L446.98 236.40 L447.78 237.00 L448.59 237.55 L449.39 238.05 L450.20 238.51 L451.00 238.93 L451.81 239.31 L452.61 239.66 L453.42 239.97 L454.22 240.26 L455.03 240.51 L455.83 240.74 L456.64 240.94 L457.44 241.12 L458.24 241.29 L459.05 241.43 L459.85 241.56 L460.66 241.68 L461.46 241.78 L462.27 241.87 L463.07 241.95 L463.88 242.03 L464.68 242.09 L465.49 242.15 L466.29 242.20 L467.10 242.24 L467.90 242.28 L468.71 242.32 L469.51 242.35 L470.31 242.38 L471.12 242.40 L471.92 242.42 L472.73 242.44 L473.53 242.46" stroke="#c4759a" stroke-width="0.6" fill="none"/>
<path d="M409.27 209.42 V217.34 M408.27 209.42 H410.27 M408.27 217.34 H410.27" stroke="#afdbf5" stroke-width="0.5" fill="none"/>
<rect x="407.87" y="211.98" width="2.8" height="2.8" fill="#9dd3f5"/>
<path d="M416.41 209.42 V216.35 M415.41 209.42 H417.41 M415.41 216.35 H417.41" stroke="#afdbf5" stroke-width="0.5" fill="none"/>
<rect x="415.01" y="211.48" width="2.8" height="2.8" fill="#9dd3f5"/>
<path d="M423.55 215.85 V219.81 M422.55 215.85 H424.55 M422.55 219.81 H424.55" stroke="#afdbf5" stroke-width="0.5" fill="none"/>
<rect x="422.15" y="216.43" width="2.8" height="2.8" fill="#9dd3f5"/>
<path d="M430.69 221.30 V229.22 M429.69 221.30 H431.69 M429.69 229.22 H431.69" stroke="#afdbf5" stroke-width="0.5" fill="none"/>
<rect x="429.29" y="223.86" width="2.8" height="2.8" fill="#9dd3f5"/>
<rect x="436.43" y="232.27" width="2.8" height="2.8" fill="#9dd3f5"/>
<rect x="443.57" y="238.71" width="2.8" height="2.8" fill="#9dd3f5"/>
<rect x="450.71" y="241.68" width="2.8" height="2.8" fill="#9dd3f5"/>
<rect x="457.85" y="243.66" width="2.8" height="2.8" fill="#9dd3f5"/>
<rect x="464.99" y="244.15" width="2.8" height="2.8" fill="#9dd3f5"/>
<rect x="472.13" y="243.66" width="2.8" height="2.8" fill="#9dd3f5"/>
<path d="M409.27 205.96 V211.90 M408.27 205.96 H410.27 M408.27 211.90 H410.27" stroke="#c4759a" stroke-width="0.5" fill="none"/>
<path d="M409.27 207.33 L410.87 210.21 L407.67 210.21Z" fill="#a31f5c"/>
<path d="M416.41 209.80 L418.01 212.68 L414.81 212.68Z" fill="#a31f5c"/>
<path d="M423.55 213.76 L425.15 216.64 L421.95 216.64Z" fill="#a31f5c"/>
<path d="M430.69 218.71 L432.29 221.59 L429.09 221.59Z" fill="#a31f5c"/>
<path d="M437.83 226.13 L439.43 229.01 L436.23 229.01Z" fill="#a31f5c"/>
<path d="M444.97 234.55 L446.57 237.43 L443.37 237.43Z" fill="#a31f5c"/>
<path d="M452.11 237.03 L453.71 239.91 L450.51 239.91Z" fill="#a31f5c"/>
<path d="M459.25 239.99 L460.85 242.87 L457.65 242.87Z" fill="#a31f5c"/>
<path d="M466.39 240.98 L467.99 243.86 L464.79 243.86Z" fill="#a31f5c"/>
<path d="M473.53 240.98 L475.13 243.86 L471.93 243.86Z" fill="#a31f5c"/>
<path d="M409.27 207.94 V213.88 M408.27 207.94 H410.27 M408.27 213.88 H410.27" stroke="#7ea8d2" stroke-width="0.5" fill="none"/>
<circle cx="409.27" cy="210.91" r="1.55" fill="#1f5ca6"/>
<path d="M416.41 207.93 V215.85 M415.41 207.93 H417.41 M415.41 215.85 H417.41" stroke="#7ea8d2" stroke-width="0.5" fill="none"/>
<circle cx="416.41" cy="211.89" r="1.55" fill="#1f5ca6"/>
<circle cx="423.55" cy="214.87" r="1.55" fill="#1f5ca6"/>
<path d="M430.69 215.85 V220.80 M429.69 215.85 H431.69 M429.69 220.80 H431.69" stroke="#7ea8d2" stroke-width="0.5" fill="none"/>
<circle cx="430.69" cy="218.33" r="1.55" fill="#1f5ca6"/>
<path d="M437.83 218.83 V222.78 M436.83 218.83 H438.83 M436.83 222.78 H438.83" stroke="#7ea8d2" stroke-width="0.5" fill="none"/>
<circle cx="437.83" cy="220.81" r="1.55" fill="#1f5ca6"/>
<circle cx="444.97" cy="228.72" r="1.55" fill="#1f5ca6"/>
<circle cx="452.11" cy="231.20" r="1.55" fill="#1f5ca6"/>
<circle cx="459.25" cy="235.65" r="1.55" fill="#1f5ca6"/>
<circle cx="466.39" cy="235.65" r="1.55" fill="#1f5ca6"/>
<circle cx="473.53" cy="239.61" r="1.55" fill="#1f5ca6"/>
<path d="M522.00 201.40 V261.35 H611.70" stroke="#3a3a3a" stroke-width="1.1" fill="none"/>
<path d="M520.00 261.35 H522.00" stroke="#3a3a3a" stroke-width="0.7"/>
<text x="519.00" y="262.95" font-size="4.6" text-anchor="end" font-family='"Liberation Sans", sans-serif' font-weight="bold" fill="#1a1a1a">0</text>
<path d="M520.00 251.36 H522.00" stroke="#3a3a3a" stroke-width="0.7"/>
<text x="519.00" y="252.96" font-size="4.6" text-anchor="end" font-family='"Liberation Sans", sans-serif' font-weight="bold" fill="#1a1a1a">20</text>
<path d="M520.00 241.37 H522.00" stroke="#3a3a3a" stroke-width="0.7"/>
<text x="519.00" y="242.97" font-size="4.6" text-anchor="end" font-family='"Liberation Sans", sans-serif' font-weight="bold" fill="#1a1a1a">40</text>
<path d="M520.00 231.38 H522.00" stroke="#3a3a3a" stroke-width="0.7"/>
<text x="519.00" y="232.97" font-size="4.6" text-anchor="end" font-family='"Liberation Sans", sans-serif' font-weight="bold" fill="#1a1a1a">60</text>
<path d="M520.00 221.38 H522.00" stroke="#3a3a3a" stroke-width="0.7"/>
<text x="519.00" y="222.98" font-size="4.6" text-anchor="end" font-family='"Liberation Sans", sans-serif' font-weight="bold" fill="#1a1a1a">80</text>
<path d="M520.00 211.39 H522.00" stroke="#3a3a3a" stroke-width="0.7"/>
<text x="519.00" y="212.99" font-size="4.6" text-anchor="end" font-family='"Liberation Sans", sans-serif' font-weight="bold" fill="#1a1a1a">100</text>
<path d="M520.00 201.40 H522.00" stroke="#3a3a3a" stroke-width="0.7"/>
<text x="519.00" y="203.00" font-size="4.6" text-anchor="end" font-family='"Liberation Sans", sans-serif' font-weight="bold" fill="#1a1a1a">120</text>
<path d="M522.00 261.35 V263.35" stroke="#3a3a3a" stroke-width="0.7"/>
<text x="522.00" y="268.75" font-size="4.6" text-anchor="middle" font-family='"Liberation Sans", sans-serif' font-weight="bold" fill="#1a1a1a">0.01</text>
<path d="M536.95 261.35 V263.35" stroke="#3a3a3a" stroke-width="0.7"/>
<text x="536.95" y="268.75" font-size="4.6" text-anchor="middle" font-family='"Liberation Sans", sans-serif' font-weight="bold" fill="#1a1a1a">0.1</text>
<path d="M551.90 261.35 V263.35" stroke="#3a3a3a" stroke-width="0.7"/>
<text x="551.90" y="268.75" font-size="4.6" text-anchor="middle" font-family='"Liberation Sans", sans-serif' font-weight="bold" fill="#1a1a1a">1</text>
<path d="M566.85 261.35 V263.35" stroke="#3a3a3a" stroke-width="0.7"/>
<text x="566.85" y="268.75" font-size="4.6" text-anchor="middle" font-family='"Liberation Sans", sans-serif' font-weight="bold" fill="#1a1a1a">10</text>
<path d="M581.80 261.35 V263.35" stroke="#3a3a3a" stroke-width="0.7"/>
<text x="581.80" y="268.75" font-size="4.6" text-anchor="middle" font-family='"Liberation Sans", sans-serif' font-weight="bold" fill="#1a1a1a">100</text>
<path d="M596.75 261.35 V263.35" stroke="#3a3a3a" stroke-width="0.7"/>
<text x="596.75" y="268.75" font-size="4.6" text-anchor="middle" font-family='"Liberation Sans", sans-serif' font-weight="bold" fill="#1a1a1a">1000</text>
<path d="M611.70 261.35 V263.35" stroke="#3a3a3a" stroke-width="0.7"/>
<text x="611.70" y="268.75" font-size="4.6" text-anchor="middle" font-family='"Liberation Sans", sans-serif' font-weight="bold" fill="#1a1a1a">10000</text>
<text x="566.85" y="276.85" font-size="5.1" text-anchor="middle" font-family='"Liberation Sans", sans-serif' font-weight="bold" fill="#1a1a1a" textLength="45.5" lengthAdjust="spacingAndGlyphs">Concentration (nM)</text>
<text x="508.80" y="231.88" font-size="4.9" text-anchor="middle" font-family='"Liberation Sans", sans-serif' font-weight="bold" fill="#1a1a1a" transform="rotate(-90 508.80 231.88)">Remaining activity %</text>
<text x="566.20" y="193.20" font-size="6.1" text-anchor="middle" font-family='"Liberation Sans", sans-serif' font-weight="bold" fill="#111" stroke="#111" stroke-width="0.12">AM16</text>
<path d="M532.45 211.45 L533.25 211.46 L534.06 211.48 L534.86 211.51 L535.66 211.54 L536.47 211.58 L537.27 211.63 L538.08 211.70 L538.88 211.79 L539.68 211.90 L540.49 212.04 L541.29 212.22 L542.09 212.44 L542.90 212.73 L543.70 213.09 L544.51 213.53 L545.31 214.09 L546.11 214.78 L546.92 215.63 L547.72 216.65 L548.52 217.87 L549.33 219.31 L550.13 220.97 L550.94 222.83 L551.74 224.89 L552.54 227.09 L553.35 229.39 L554.15 231.70 L554.95 233.97 L555.76 236.13 L556.56 238.12 L557.37 239.91 L558.17 241.49 L558.97 242.85 L559.78 243.99 L560.58 244.95 L561.38 245.74 L562.19 246.38 L562.99 246.89 L563.80 247.31 L564.60 247.64 L565.40 247.90 L566.21 248.10 L567.01 248.27 L567.81 248.40 L568.62 248.50 L569.42 248.58 L570.23 248.64 L571.03 248.69 L571.83 248.72 L572.64 248.75 L573.44 248.78 L574.24 248.80 L575.05 248.81 L575.85 248.82 L576.66 248.83 L577.46 248.84 L578.26 248.84 L579.07 248.85 L579.87 248.85 L580.67 248.85 L581.48 248.85 L582.28 248.85 L583.09 248.86 L583.89 248.86 L584.69 248.86 L585.50 248.86 L586.30 248.86 L587.10 248.86 L587.91 248.86 L588.71 248.86 L589.52 248.86 L590.32 248.86 L591.12 248.86 L591.93 248.86 L592.73 248.86 L593.53 248.86 L594.34 248.86 L595.14 248.86 L595.95 248.86 L596.75 248.86" stroke="#7ea8d2" stroke-width="0.6" fill="none"/>
<path d="M532.45 213.95 L533.25 214.43 L534.06 215.00 L534.86 215.67 L535.66 216.44 L536.47 217.33 L537.27 218.35 L538.08 219.51 L538.88 220.82 L539.68 222.26 L540.49 223.85 L541.29 225.57 L542.09 227.41 L542.90 229.35 L543.70 231.35 L544.51 233.38 L545.31 235.42 L546.11 237.42 L546.92 239.35 L547.72 241.19 L548.52 242.91 L549.33 244.50 L550.13 245.95 L550.94 247.25 L551.74 248.40 L552.54 249.42 L553.35 250.31 L554.15 251.08 L554.95 251.75 L555.76 252.32 L556.56 252.80 L557.37 253.21 L558.17 253.56 L558.97 253.86 L559.78 254.10 L560.58 254.31 L561.38 254.48 L562.19 254.63 L562.99 254.75 L563.80 254.85 L564.60 254.94 L565.40 255.01 L566.21 255.06 L567.01 255.11 L567.81 255.15 L568.62 255.19 L569.42 255.22 L570.23 255.24 L571.03 255.26 L571.83 255.28 L572.64 255.29 L573.44 255.30 L574.24 255.31 L575.05 255.32 L575.85 255.32 L576.66 255.33 L577.46 255.33 L578.26 255.34 L579.07 255.34 L579.87 255.34 L580.67 255.34 L581.48 255.35 L582.28 255.35 L583.09 255.35 L583.89 255.35 L584.69 255.35 L585.50 255.35 L586.30 255.35 L587.10 255.35 L587.91 255.35 L588.71 255.35 L589.52 255.35 L590.32 255.35 L591.12 255.35 L591.93 255.35 L592.73 255.35 L593.53 255.35 L594.34 255.35 L595.14 255.35 L595.95 255.35 L596.75 255.35" stroke="#afdbf5" stroke-width="0.6" fill="none"/>
<path d="M532.45 215.79 L533.25 215.94 L534.06 216.12 L534.86 216.33 L535.66 216.57 L536.47 216.85 L537.27 217.17 L538.08 217.54 L538.88 217.97 L539.68 218.46 L540.49 219.01 L541.29 219.65 L542.09 220.36 L542.90 221.17 L543.70 222.06 L544.51 223.06 L545.31 224.15 L546.11 225.34 L546.92 226.62 L547.72 227.99 L548.52 229.43 L549.33 230.94 L550.13 232.49 L550.94 234.07 L551.74 235.66 L552.54 237.23 L553.35 238.77 L554.15 240.26 L554.95 241.68 L555.76 243.03 L556.56 244.28 L557.37 245.44 L558.17 246.50 L558.97 247.46 L559.78 248.33 L560.58 249.11 L561.38 249.80 L562.19 250.41 L562.99 250.94 L563.80 251.41 L564.60 251.82 L565.40 252.18 L566.21 252.49 L567.01 252.75 L567.81 252.98 L568.62 253.18 L569.42 253.35 L570.23 253.50 L571.03 253.62 L571.83 253.73 L572.64 253.82 L573.44 253.90 L574.24 253.97 L575.05 254.02 L575.85 254.07 L576.66 254.12 L577.46 254.15 L578.26 254.18 L579.07 254.21 L579.87 254.23 L580.67 254.25 L581.48 254.26 L582.28 254.28 L583.09 254.29 L583.89 254.30 L584.69 254.31 L585.50 254.31 L586.30 254.32 L587.10 254.33 L587.91 254.33 L588.71 254.33 L589.52 254.34 L590.32 254.34 L591.12 254.34 L591.93 254.34 L592.73 254.35 L593.53 254.35 L594.34 254.35 L595.14 254.35 L595.95 254.35 L596.75 254.35" stroke="#c4759a" stroke-width="0.6" fill="none"/>
<rect x="531.15" y="210.99" width="2.8" height="2.8" fill="#9dd3f5"/>
<rect x="538.29" y="222.98" width="2.8" height="2.8" fill="#9dd3f5"/>
<rect x="545.42" y="237.97" width="2.8" height="2.8" fill="#9dd3f5"/>
<rect x="552.55" y="247.46" width="2.8" height="2.8" fill="#9dd3f5"/>
<rect x="559.69" y="251.96" width="2.8" height="2.8" fill="#9dd3f5"/>
<rect x="566.82" y="253.96" width="2.8" height="2.8" fill="#9dd3f5"/>
<rect x="573.95" y="254.45" width="2.8" height="2.8" fill="#9dd3f5"/>
<rect x="581.08" y="253.46" width="2.8" height="2.8" fill="#9dd3f5"/>
<rect x="588.22" y="248.46" width="2.8" height="2.8" fill="#9dd3f5"/>
<rect x="595.35" y="243.46" width="2.8" height="2.8" fill="#9dd3f5"/>
<path d="M532.55 212.89 V218.89 M531.55 212.89 H533.55 M531.55 218.89 H533.55" stroke="#c4759a" stroke-width="0.5" fill="none"/>
<path d="M532.55 214.29 L534.15 217.17 L530.95 217.17Z" fill="#a31f5c"/>
<path d="M539.69 216.79 L541.29 219.67 L538.09 219.67Z" fill="#a31f5c"/>
<path d="M546.82 224.28 L548.42 227.16 L545.22 227.16Z" fill="#a31f5c"/>
<path d="M553.95 237.27 L555.55 240.15 L552.35 240.15Z" fill="#a31f5c"/>
<path d="M561.09 245.76 L562.69 248.64 L559.49 248.64Z" fill="#a31f5c"/>
<path d="M568.22 251.26 L569.82 254.14 L566.62 254.14Z" fill="#a31f5c"/>
<path d="M575.35 252.26 L576.95 255.14 L573.75 255.14Z" fill="#a31f5c"/>
<path d="M582.48 254.25 L584.08 257.13 L580.88 257.13Z" fill="#a31f5c"/>
<path d="M589.62 253.26 L591.22 256.14 L588.02 256.14Z" fill="#a31f5c"/>
<path d="M596.75 249.76 L598.35 252.64 L595.15 252.64Z" fill="#a31f5c"/>
<circle cx="532.55" cy="211.39" r="1.55" fill="#1f5ca6"/>
<circle cx="539.69" cy="213.39" r="1.55" fill="#1f5ca6"/>
<circle cx="546.82" cy="213.89" r="1.55" fill="#1f5ca6"/>
<circle cx="553.95" cy="232.37" r="1.55" fill="#1f5ca6"/>
<circle cx="561.09" cy="241.37" r="1.55" fill="#1f5ca6"/>
<circle cx="568.22" cy="248.36" r="1.55" fill="#1f5ca6"/>
<circle cx="575.35" cy="250.36" r="1.55" fill="#1f5ca6"/>
<circle cx="582.48" cy="250.86" r="1.55" fill="#1f5ca6"/>
<circle cx="589.62" cy="249.36" r="1.55" fill="#1f5ca6"/>
<path d="M596.75 243.86 V247.86 M595.75 243.86 H597.75 M595.75 247.86 H597.75" stroke="#7ea8d2" stroke-width="0.5" fill="none"/>
<circle cx="596.75" cy="245.86" r="1.55" fill="#1f5ca6"/>
<path d="M651.00 201.60 V261.20 H740.20" stroke="#3a3a3a" stroke-width="1.1" fill="none"/>
<path d="M649.00 261.20 H651.00" stroke="#3a3a3a" stroke-width="0.7"/>
<text x="648.00" y="262.80" font-size="4.6" text-anchor="end" font-family='"Liberation Sans", sans-serif' font-weight="bold" fill="#1a1a1a">0</text>
<path d="M649.00 251.27 H651.00" stroke="#3a3a3a" stroke-width="0.7"/>
<text x="648.00" y="252.87" font-size="4.6" text-anchor="end" font-family='"Liberation Sans", sans-serif' font-weight="bold" fill="#1a1a1a">20</text>
<path d="M649.00 241.33 H651.00" stroke="#3a3a3a" stroke-width="0.7"/>
<text x="648.00" y="242.93" font-size="4.6" text-anchor="end" font-family='"Liberation Sans", sans-serif' font-weight="bold" fill="#1a1a1a">40</text>
<path d="M649.00 231.40 H651.00" stroke="#3a3a3a" stroke-width="0.7"/>
<text x="648.00" y="233.00" font-size="4.6" text-anchor="end" font-family='"Liberation Sans", sans-serif' font-weight="bold" fill="#1a1a1a">60</text>
<path d="M649.00 221.47 H651.00" stroke="#3a3a3a" stroke-width="0.7"/>
<text x="648.00" y="223.07" font-size="4.6" text-anchor="end" font-family='"Liberation Sans", sans-serif' font-weight="bold" fill="#1a1a1a">80</text>
<path d="M649.00 211.53 H651.00" stroke="#3a3a3a" stroke-width="0.7"/>
<text x="648.00" y="213.13" font-size="4.6" text-anchor="end" font-family='"Liberation Sans", sans-serif' font-weight="bold" fill="#1a1a1a">100</text>
<path d="M649.00 201.60 H651.00" stroke="#3a3a3a" stroke-width="0.7"/>
<text x="648.00" y="203.20" font-size="4.6" text-anchor="end" font-family='"Liberation Sans", sans-serif' font-weight="bold" fill="#1a1a1a">120</text>
<path d="M651.00 261.20 V263.20" stroke="#3a3a3a" stroke-width="0.7"/>
<text x="651.00" y="268.60" font-size="4.6" text-anchor="middle" font-family='"Liberation Sans", sans-serif' font-weight="bold" fill="#1a1a1a">0.01</text>
<path d="M665.87 261.20 V263.20" stroke="#3a3a3a" stroke-width="0.7"/>
<text x="665.87" y="268.60" font-size="4.6" text-anchor="middle" font-family='"Liberation Sans", sans-serif' font-weight="bold" fill="#1a1a1a">0.1</text>
<path d="M680.73 261.20 V263.20" stroke="#3a3a3a" stroke-width="0.7"/>
<text x="680.73" y="268.60" font-size="4.6" text-anchor="middle" font-family='"Liberation Sans", sans-serif' font-weight="bold" fill="#1a1a1a">1</text>
<path d="M695.60 261.20 V263.20" stroke="#3a3a3a" stroke-width="0.7"/>
<text x="695.60" y="268.60" font-size="4.6" text-anchor="middle" font-family='"Liberation Sans", sans-serif' font-weight="bold" fill="#1a1a1a">10</text>
<path d="M710.47 261.20 V263.20" stroke="#3a3a3a" stroke-width="0.7"/>
<text x="710.47" y="268.60" font-size="4.6" text-anchor="middle" font-family='"Liberation Sans", sans-serif' font-weight="bold" fill="#1a1a1a">100</text>
<path d="M725.33 261.20 V263.20" stroke="#3a3a3a" stroke-width="0.7"/>
<text x="725.33" y="268.60" font-size="4.6" text-anchor="middle" font-family='"Liberation Sans", sans-serif' font-weight="bold" fill="#1a1a1a">1000</text>
<path d="M740.20 261.20 V263.20" stroke="#3a3a3a" stroke-width="0.7"/>
<text x="740.20" y="268.60" font-size="4.6" text-anchor="middle" font-family='"Liberation Sans", sans-serif' font-weight="bold" fill="#1a1a1a">10000</text>
<text x="695.60" y="276.70" font-size="5.1" text-anchor="middle" font-family='"Liberation Sans", sans-serif' font-weight="bold" fill="#1a1a1a" textLength="45.5" lengthAdjust="spacingAndGlyphs">Concentration (nM)</text>
<text x="637.10" y="231.90" font-size="4.9" text-anchor="middle" font-family='"Liberation Sans", sans-serif' font-weight="bold" fill="#1a1a1a" transform="rotate(-90 637.10 231.90)">Remaining activity %</text>
<text x="696.00" y="191.80" font-size="6.1" text-anchor="middle" font-family='"Liberation Sans", sans-serif' font-weight="bold" fill="#111" stroke="#111" stroke-width="0.12">AM25</text>
<path d="M661.39 212.06 L662.19 212.07 L662.99 212.07 L663.79 212.08 L664.59 212.09 L665.39 212.10 L666.19 212.11 L666.99 212.12 L667.79 212.13 L668.58 212.15 L669.38 212.17 L670.18 212.19 L670.98 212.22 L671.78 212.25 L672.58 212.29 L673.38 212.33 L674.18 212.38 L674.98 212.44 L675.78 212.51 L676.58 212.58 L677.38 212.67 L678.18 212.78 L678.98 212.90 L679.77 213.04 L680.57 213.19 L681.37 213.37 L682.17 213.58 L682.97 213.82 L683.77 214.09 L684.57 214.39 L685.37 214.73 L686.17 215.11 L686.97 215.54 L687.77 216.01 L688.57 216.52 L689.37 217.08 L690.17 217.69 L690.96 218.34 L691.76 219.02 L692.56 219.74 L693.36 220.48 L694.16 221.24 L694.96 222.00 L695.76 222.77 L696.56 223.53 L697.36 224.27 L698.16 224.98 L698.96 225.66 L699.76 226.30 L700.56 226.90 L701.36 227.46 L702.15 227.97 L702.95 228.43 L703.75 228.85 L704.55 229.23 L705.35 229.57 L706.15 229.87 L706.95 230.13 L707.75 230.37 L708.55 230.57 L709.35 230.75 L710.15 230.91 L710.95 231.04 L711.75 231.16 L712.54 231.26 L713.34 231.35 L714.14 231.43 L714.94 231.49 L715.74 231.55 L716.54 231.60 L717.34 231.64 L718.14 231.68 L718.94 231.71 L719.74 231.74 L720.54 231.76 L721.34 231.78 L722.14 231.79 L722.94 231.81 L723.73 231.82 L724.53 231.83 L725.33 231.84" stroke="#7ea8d2" stroke-width="0.6" fill="none"/>
<path d="M661.39 211.66 L662.19 211.68 L662.99 211.70 L663.79 211.73 L664.59 211.75 L665.39 211.78 L666.19 211.82 L666.99 211.86 L667.79 211.90 L668.58 211.95 L669.38 212.01 L670.18 212.08 L670.98 212.15 L671.78 212.24 L672.58 212.33 L673.38 212.44 L674.18 212.56 L674.98 212.70 L675.78 212.86 L676.58 213.04 L677.38 213.24 L678.18 213.46 L678.98 213.72 L679.77 214.01 L680.57 214.33 L681.37 214.69 L682.17 215.09 L682.97 215.54 L683.77 216.05 L684.57 216.60 L685.37 217.22 L686.17 217.89 L686.97 218.64 L687.77 219.45 L688.57 220.34 L689.37 221.29 L690.17 222.33 L690.96 223.43 L691.76 224.60 L692.56 225.84 L693.36 227.14 L694.16 228.50 L694.96 229.90 L695.76 231.33 L696.56 232.78 L697.36 234.25 L698.16 235.72 L698.96 237.17 L699.76 238.60 L700.56 239.99 L701.36 241.33 L702.15 242.63 L702.95 243.85 L703.75 245.02 L704.55 246.11 L705.35 247.13 L706.15 248.08 L706.95 248.95 L707.75 249.75 L708.55 250.48 L709.35 251.15 L710.15 251.76 L710.95 252.30 L711.75 252.80 L712.54 253.24 L713.34 253.63 L714.14 253.99 L714.94 254.31 L715.74 254.59 L716.54 254.84 L717.34 255.06 L718.14 255.26 L718.94 255.43 L719.74 255.59 L720.54 255.72 L721.34 255.84 L722.14 255.95 L722.94 256.04 L723.73 256.12 L724.53 256.20 L725.33 256.26" stroke="#afdbf5" stroke-width="0.6" fill="none"/>
<path d="M661.39 211.66 L662.19 211.68 L662.99 211.70 L663.79 211.73 L664.59 211.75 L665.39 211.78 L666.19 211.82 L666.99 211.86 L667.79 211.90 L668.58 211.95 L669.38 212.01 L670.18 212.08 L670.98 212.15 L671.78 212.24 L672.58 212.33 L673.38 212.44 L674.18 212.56 L674.98 212.70 L675.78 212.86 L676.58 213.04 L677.38 213.24 L678.18 213.46 L678.98 213.72 L679.77 214.01 L680.57 214.33 L681.37 214.69 L682.17 215.09 L682.97 215.54 L683.77 216.05 L684.57 216.60 L685.37 217.22 L686.17 217.89 L686.97 218.64 L687.77 219.45 L688.57 220.34 L689.37 221.29 L690.17 222.33 L690.96 223.43 L691.76 224.60 L692.56 225.84 L693.36 227.14 L694.16 228.50 L694.96 229.90 L695.76 231.33 L696.56 232.78 L697.36 234.25 L698.16 235.72 L698.96 237.17 L699.76 238.60 L700.56 239.99 L701.36 241.33 L702.15 242.63 L702.95 243.85 L703.75 245.02 L704.55 246.11 L705.35 247.13 L706.15 248.08 L706.95 248.95 L707.75 249.75 L708.55 250.48 L709.35 251.15 L710.15 251.76 L710.95 252.30 L711.75 252.80 L712.54 253.24 L713.34 253.63 L714.14 253.99 L714.94 254.31 L715.74 254.59 L716.54 254.84 L717.34 255.06 L718.14 255.26 L718.94 255.43 L719.74 255.59 L720.54 255.72 L721.34 255.84 L722.14 255.95 L722.94 256.04 L723.73 256.12 L724.53 256.20 L725.33 256.26" stroke="#c4759a" stroke-width="0.6" fill="none"/>
<path d="M661.49 211.53 V214.51 M660.49 211.53 H662.49 M660.49 214.51 H662.49" stroke="#afdbf5" stroke-width="0.5" fill="none"/>
<rect x="660.09" y="211.62" width="2.8" height="2.8" fill="#9dd3f5"/>
<path d="M668.59 206.57 V212.53 M667.59 206.57 H669.59 M667.59 212.53 H669.59" stroke="#afdbf5" stroke-width="0.5" fill="none"/>
<rect x="667.19" y="208.15" width="2.8" height="2.8" fill="#9dd3f5"/>
<path d="M675.68 209.55 V215.51 M674.68 209.55 H676.68 M674.68 215.51 H676.68" stroke="#afdbf5" stroke-width="0.5" fill="none"/>
<rect x="674.28" y="211.13" width="2.8" height="2.8" fill="#9dd3f5"/>
<path d="M682.77 213.52 V219.48 M681.77 213.52 H683.77 M681.77 219.48 H683.77" stroke="#afdbf5" stroke-width="0.5" fill="none"/>
<rect x="681.37" y="215.10" width="2.8" height="2.8" fill="#9dd3f5"/>
<path d="M689.87 220.97 V225.94 M688.87 220.97 H690.87 M688.87 225.94 H690.87" stroke="#afdbf5" stroke-width="0.5" fill="none"/>
<rect x="688.47" y="222.05" width="2.8" height="2.8" fill="#9dd3f5"/>
<rect x="695.56" y="231.99" width="2.8" height="2.8" fill="#9dd3f5"/>
<rect x="702.65" y="243.41" width="2.8" height="2.8" fill="#9dd3f5"/>
<rect x="709.75" y="250.36" width="2.8" height="2.8" fill="#9dd3f5"/>
<rect x="716.84" y="253.84" width="2.8" height="2.8" fill="#9dd3f5"/>
<rect x="723.93" y="254.34" width="2.8" height="2.8" fill="#9dd3f5"/>
<path d="M661.49 209.05 V213.02 M660.49 209.05 H662.49 M660.49 213.02 H662.49" stroke="#c4759a" stroke-width="0.5" fill="none"/>
<path d="M661.49 209.44 L663.09 212.32 L659.89 212.32Z" fill="#a31f5c"/>
<path d="M668.59 209.55 V216.50 M667.59 209.55 H669.59 M667.59 216.50 H669.59" stroke="#c4759a" stroke-width="0.5" fill="none"/>
<path d="M668.59 211.42 L670.19 214.30 L666.99 214.30Z" fill="#a31f5c"/>
<path d="M675.68 211.53 V220.47 M674.68 211.53 H676.68 M674.68 220.47 H676.68" stroke="#c4759a" stroke-width="0.5" fill="none"/>
<path d="M675.68 214.40 L677.28 217.28 L674.08 217.28Z" fill="#a31f5c"/>
<path d="M682.77 211.04 V217.00 M681.77 211.04 H683.77 M681.77 217.00 H683.77" stroke="#c4759a" stroke-width="0.5" fill="none"/>
<path d="M682.77 212.42 L684.37 215.30 L681.17 215.30Z" fill="#a31f5c"/>
<path d="M661.49 210.04 V213.02 M660.49 210.04 H662.49 M660.49 213.02 H662.49" stroke="#7ea8d2" stroke-width="0.5" fill="none"/>
<circle cx="661.49" cy="211.53" r="1.55" fill="#1f5ca6"/>
<circle cx="668.59" cy="212.03" r="1.55" fill="#1f5ca6"/>
<path d="M675.68 211.04 V215.01 M674.68 211.04 H676.68 M674.68 215.01 H676.68" stroke="#7ea8d2" stroke-width="0.5" fill="none"/>
<circle cx="675.68" cy="213.02" r="1.55" fill="#1f5ca6"/>
<path d="M682.77 212.53 V215.51 M681.77 212.53 H683.77 M681.77 215.51 H683.77" stroke="#7ea8d2" stroke-width="0.5" fill="none"/>
<circle cx="682.77" cy="214.02" r="1.55" fill="#1f5ca6"/>
<circle cx="689.87" cy="216.50" r="1.55" fill="#1f5ca6"/>
<circle cx="696.96" cy="222.96" r="1.55" fill="#1f5ca6"/>
<circle cx="704.05" cy="227.92" r="1.55" fill="#1f5ca6"/>
<circle cx="711.15" cy="230.41" r="1.55" fill="#1f5ca6"/>
<circle cx="718.24" cy="229.91" r="1.55" fill="#1f5ca6"/>
<circle cx="725.33" cy="231.90" r="1.55" fill="#1f5ca6"/>
<path d="M750.10 50.90 H757.10" stroke="#c5d6ea" stroke-width="0.6"/>
<circle cx="753.60" cy="50.90" r="1.3" fill="#1f5ca6"/>
<text x="759.90" y="52.80" font-size="5.4" font-family='"Liberation Sans", sans-serif' fill="#222" stroke="#222" stroke-width="0.15" textLength="22.30" lengthAdjust="spacingAndGlyphs">unpurified</text>
<path d="M750.10 58.80 H757.10" stroke="#d8eefa" stroke-width="0.6"/>
<rect x="752.40" y="57.60" width="2.4" height="2.4" fill="#9dd3f5"/>
<text x="759.90" y="60.70" font-size="5.4" font-family='"Liberation Sans", sans-serif' fill="#222" stroke="#222" stroke-width="0.15" textLength="16.70" lengthAdjust="spacingAndGlyphs">purified</text>
<path d="M753.50 205.30 H760.50" stroke="#c5d6ea" stroke-width="0.6"/>
<circle cx="757.00" cy="205.30" r="1.3" fill="#1f5ca6"/>
<text x="763.30" y="207.20" font-size="5.4" font-family='"Liberation Sans", sans-serif' fill="#222" stroke="#222" stroke-width="0.15" textLength="21.80" lengthAdjust="spacingAndGlyphs">unpurified</text>
<path d="M753.50 213.40 H760.50" stroke="#d8eefa" stroke-width="0.6"/>
<rect x="755.80" y="212.20" width="2.4" height="2.4" fill="#9dd3f5"/>
<text x="763.30" y="215.30" font-size="5.4" font-family='"Liberation Sans", sans-serif' fill="#222" stroke="#222" stroke-width="0.15" textLength="16.00" lengthAdjust="spacingAndGlyphs">purified</text>
<path d="M753.50 221.50 H760.50" stroke="#e0b8c8" stroke-width="0.6"/>
<path d="M757.00 220.00 L758.50 222.70 L755.50 222.70Z" fill="#a31f5c"/>
<text x="763.30" y="223.40" font-size="5.4" font-family='"Liberation Sans", sans-serif' fill="#222" stroke="#222" stroke-width="0.15" textLength="28.30" lengthAdjust="spacingAndGlyphs">micropurified</text>
</g>
<path d="M31.4 328.4 V550.1 H382.3" fill="none" stroke="#eceef4" stroke-width="1"/>
<path d="M66.00 328.4 V550.1" stroke="#f4f4f5" stroke-width="1"/>
<path d="M99.25 328.4 V550.1" stroke="#f4f4f5" stroke-width="1"/>
<path d="M132.50 328.4 V550.1" stroke="#f4f4f5" stroke-width="1"/>
<path d="M165.75 328.4 V550.1" stroke="#f4f4f5" stroke-width="1"/>
<path d="M199.00 328.4 V550.1" stroke="#f4f4f5" stroke-width="1"/>
<path d="M232.25 328.4 V550.1" stroke="#f4f4f5" stroke-width="1"/>
<path d="M265.50 328.4 V550.1" stroke="#f4f4f5" stroke-width="1"/>
<path d="M298.75 328.4 V550.1" stroke="#f4f4f5" stroke-width="1"/>
<path d="M332.00 328.4 V550.1" stroke="#f4f4f5" stroke-width="1"/>
<path d="M365.25 328.4 V550.1" stroke="#f4f4f5" stroke-width="1"/>
<path d="M31.4 524.02 H382.3" stroke="#f4f4f5" stroke-width="1"/>
<path d="M31.4 496.66 H382.3" stroke="#f4f4f5" stroke-width="1"/>
<path d="M31.4 469.30 H382.3" stroke="#f4f4f5" stroke-width="1"/>
<path d="M31.4 441.94 H382.3" stroke="#f4f4f5" stroke-width="1"/>
<path d="M31.4 414.58 H382.3" stroke="#f4f4f5" stroke-width="1"/>
<path d="M31.4 387.22 H382.3" stroke="#f4f4f5" stroke-width="1"/>
<path d="M31.4 359.86 H382.3" stroke="#f4f4f5" stroke-width="1"/>
<path d="M31.4 332.50 H382.3" stroke="#f4f4f5" stroke-width="1"/>
<clipPath id="cp1"><rect x="31.40" y="328.40" width="350.90" height="221.70"/></clipPath>
<path d="M-0.50 578.74 L398.50 250.42" stroke="#9e9e9e" stroke-width="0.95" clip-path="url(#cp1)"/>
<path d="M-0.50 606.10 L398.50 277.78" stroke="#8e8e8e" stroke-width="1.0" clip-path="url(#cp1)"/>
<path d="M-0.50 633.46 L398.50 305.14" stroke="#9e9e9e" stroke-width="0.95" clip-path="url(#cp1)"/>
<text x="28.3" y="527.82" font-size="11" text-anchor="end" font-family='"Liberation Sans", sans-serif' fill="#606066" stroke="#606066" stroke-width="0.2" textLength="14.07" lengthAdjust="spacingAndGlyphs">5.5</text>
<text x="28.3" y="500.46" font-size="11" text-anchor="end" font-family='"Liberation Sans", sans-serif' fill="#606066" stroke="#606066" stroke-width="0.2" textLength="14.07" lengthAdjust="spacingAndGlyphs">6.0</text>
<text x="28.3" y="473.10" font-size="11" text-anchor="end" font-family='"Liberation Sans", sans-serif' fill="#606066" stroke="#606066" stroke-width="0.2" textLength="14.07" lengthAdjust="spacingAndGlyphs">6.5</text>
<text x="28.3" y="445.74" font-size="11" text-anchor="end" font-family='"Liberation Sans", sans-serif' fill="#606066" stroke="#606066" stroke-width="0.2" textLength="14.07" lengthAdjust="spacingAndGlyphs">7.0</text>
<text x="28.3" y="418.38" font-size="11" text-anchor="end" font-family='"Liberation Sans", sans-serif' fill="#606066" stroke="#606066" stroke-width="0.2" textLength="14.07" lengthAdjust="spacingAndGlyphs">7.5</text>
<text x="28.3" y="391.02" font-size="11" text-anchor="end" font-family='"Liberation Sans", sans-serif' fill="#606066" stroke="#606066" stroke-width="0.2" textLength="14.07" lengthAdjust="spacingAndGlyphs">8.0</text>
<text x="28.3" y="363.66" font-size="11" text-anchor="end" font-family='"Liberation Sans", sans-serif' fill="#606066" stroke="#606066" stroke-width="0.2" textLength="14.07" lengthAdjust="spacingAndGlyphs">8.5</text>
<text x="28.3" y="338.70" font-size="11" text-anchor="end" font-family='"Liberation Sans", sans-serif' fill="#606066" stroke="#606066" stroke-width="0.2" textLength="14.07" lengthAdjust="spacingAndGlyphs">9.0</text>
<text x="40.60" y="562.0" font-size="11" text-anchor="middle" font-family='"Liberation Sans", sans-serif' fill="#606066" stroke="#606066" stroke-width="0.2" textLength="14.53" lengthAdjust="spacingAndGlyphs">4.5</text>
<text x="66.00" y="562.0" font-size="11" text-anchor="middle" font-family='"Liberation Sans", sans-serif' fill="#606066" stroke="#606066" stroke-width="0.2" textLength="14.53" lengthAdjust="spacingAndGlyphs">5.0</text>
<text x="99.25" y="562.0" font-size="11" text-anchor="middle" font-family='"Liberation Sans", sans-serif' fill="#606066" stroke="#606066" stroke-width="0.2" textLength="14.53" lengthAdjust="spacingAndGlyphs">5.5</text>
<text x="132.50" y="562.0" font-size="11" text-anchor="middle" font-family='"Liberation Sans", sans-serif' fill="#606066" stroke="#606066" stroke-width="0.2" textLength="14.53" lengthAdjust="spacingAndGlyphs">6.0</text>
<text x="165.75" y="562.0" font-size="11" text-anchor="middle" font-family='"Liberation Sans", sans-serif' fill="#606066" stroke="#606066" stroke-width="0.2" textLength="14.53" lengthAdjust="spacingAndGlyphs">6.5</text>
<text x="199.00" y="562.0" font-size="11" text-anchor="middle" font-family='"Liberation Sans", sans-serif' fill="#606066" stroke="#606066" stroke-width="0.2" textLength="14.53" lengthAdjust="spacingAndGlyphs">7.0</text>
<text x="232.25" y="562.0" font-size="11" text-anchor="middle" font-family='"Liberation Sans", sans-serif' fill="#606066" stroke="#606066" stroke-width="0.2" textLength="14.53" lengthAdjust="spacingAndGlyphs">7.5</text>
<text x="265.50" y="562.0" font-size="11" text-anchor="middle" font-family='"Liberation Sans", sans-serif' fill="#606066" stroke="#606066" stroke-width="0.2" textLength="14.53" lengthAdjust="spacingAndGlyphs">8.0</text>
<text x="298.75" y="562.0" font-size="11" text-anchor="middle" font-family='"Liberation Sans", sans-serif' fill="#606066" stroke="#606066" stroke-width="0.2" textLength="14.53" lengthAdjust="spacingAndGlyphs">8.5</text>
<text x="332.00" y="562.0" font-size="11" text-anchor="middle" font-family='"Liberation Sans", sans-serif' fill="#606066" stroke="#606066" stroke-width="0.2" textLength="14.53" lengthAdjust="spacingAndGlyphs">9.0</text>
<text x="365.25" y="562.0" font-size="11" text-anchor="middle" font-family='"Liberation Sans", sans-serif' fill="#606066" stroke="#606066" stroke-width="0.2" textLength="14.53" lengthAdjust="spacingAndGlyphs">9.5</text>
<path d="M332.00 337.97 H371.90" stroke="#8fcaee" stroke-width="1"/>
<path d="M298.75 376.28 H312.05" stroke="#8fcaee" stroke-width="1"/>
<circle cx="46.05" cy="524.02" r="2.75" fill="#8f1b8c" stroke="#7d1a7b" stroke-width="0.5"/>
<circle cx="46.05" cy="540.44" r="2.75" fill="#8f1b8c" stroke="#7d1a7b" stroke-width="0.5"/>
<circle cx="152.45" cy="458.36" r="2.75" fill="#8f1b8c" stroke="#7d1a7b" stroke-width="0.5"/>
<circle cx="152.45" cy="480.24" r="2.75" fill="#8f1b8c" stroke="#7d1a7b" stroke-width="0.5"/>
<circle cx="199.00" cy="436.47" r="2.75" fill="#8f1b8c" stroke="#7d1a7b" stroke-width="0.5"/>
<circle cx="205.65" cy="441.94" r="2.75" fill="#8f1b8c" stroke="#7d1a7b" stroke-width="0.5"/>
<circle cx="205.65" cy="447.41" r="2.75" fill="#8f1b8c" stroke="#7d1a7b" stroke-width="0.5"/>
<circle cx="212.30" cy="441.94" r="2.75" fill="#8f1b8c" stroke="#7d1a7b" stroke-width="0.5"/>
<circle cx="212.30" cy="431.00" r="2.75" fill="#8f1b8c" stroke="#7d1a7b" stroke-width="0.5"/>
<circle cx="225.60" cy="420.05" r="2.75" fill="#8f1b8c" stroke="#7d1a7b" stroke-width="0.5"/>
<circle cx="225.60" cy="436.47" r="2.75" fill="#8f1b8c" stroke="#7d1a7b" stroke-width="0.5"/>
<circle cx="132.50" cy="496.66" r="2.75" fill="#6ab9e8" stroke="#58a6d6" stroke-width="0.5"/>
<circle cx="258.85" cy="387.22" r="2.75" fill="#6ab9e8" stroke="#58a6d6" stroke-width="0.5"/>
<circle cx="285.45" cy="365.33" r="2.75" fill="#6ab9e8" stroke="#58a6d6" stroke-width="0.5"/>
<circle cx="292.10" cy="370.80" r="2.75" fill="#6ab9e8" stroke="#58a6d6" stroke-width="0.5"/>
<circle cx="312.05" cy="376.28" r="2.75" fill="#6ab9e8" stroke="#58a6d6" stroke-width="0.5"/>
<circle cx="371.90" cy="337.97" r="2.75" fill="#6ab9e8" stroke="#58a6d6" stroke-width="0.5"/>
<path d="M292.10 362.33 L295.10 367.33 L289.10 367.33Z" fill="#6ab9e8"/>
<path d="M298.75 373.28 L301.75 378.28 L295.75 378.28Z" fill="#6ab9e8"/>
<path d="M332.00 334.97 L335.00 339.97 L329.00 339.97Z" fill="#6ab9e8"/>
<path d="M408.3 326.2 V550.5 H767.5" fill="none" stroke="#eceef4" stroke-width="1"/>
<path d="M470.28 326.2 V550.5" stroke="#f4f4f5" stroke-width="1"/>
<path d="M538.66 326.2 V550.5" stroke="#f4f4f5" stroke-width="1"/>
<path d="M607.04 326.2 V550.5" stroke="#f4f4f5" stroke-width="1"/>
<path d="M675.42 326.2 V550.5" stroke="#f4f4f5" stroke-width="1"/>
<path d="M743.80 326.2 V550.5" stroke="#f4f4f5" stroke-width="1"/>
<path d="M408.3 544.00 H767.5" stroke="#f4f4f5" stroke-width="1"/>
<path d="M408.3 504.25 H767.5" stroke="#f4f4f5" stroke-width="1"/>
<path d="M408.3 464.50 H767.5" stroke="#f4f4f5" stroke-width="1"/>
<path d="M408.3 424.75 H767.5" stroke="#f4f4f5" stroke-width="1"/>
<path d="M408.3 385.00 H767.5" stroke="#f4f4f5" stroke-width="1"/>
<path d="M408.3 345.25 H767.5" stroke="#f4f4f5" stroke-width="1"/>
<clipPath id="cp2"><rect x="408.30" y="326.20" width="359.20" height="224.30"/></clipPath>
<path d="M378.50 538.79 L772.50 308.46" stroke="#9e9e9e" stroke-width="0.95" clip-path="url(#cp2)"/>
<path d="M378.50 558.51 L797.50 313.99" stroke="#8e8e8e" stroke-width="1.0" clip-path="url(#cp2)"/>
<path d="M396.90 568.18 L797.50 333.42" stroke="#9e9e9e" stroke-width="0.95" clip-path="url(#cp2)"/>
<text x="404.8" y="548.00" font-size="11" text-anchor="end" font-family='"Liberation Sans", sans-serif' fill="#606066" stroke="#606066" stroke-width="0.2">0</text>
<text x="404.8" y="508.25" font-size="11" text-anchor="end" font-family='"Liberation Sans", sans-serif' fill="#606066" stroke="#606066" stroke-width="0.2">20</text>
<text x="404.8" y="468.50" font-size="11" text-anchor="end" font-family='"Liberation Sans", sans-serif' fill="#606066" stroke="#606066" stroke-width="0.2">40</text>
<text x="404.8" y="428.75" font-size="11" text-anchor="end" font-family='"Liberation Sans", sans-serif' fill="#606066" stroke="#606066" stroke-width="0.2">60</text>
<text x="404.8" y="389.00" font-size="11" text-anchor="end" font-family='"Liberation Sans", sans-serif' fill="#606066" stroke="#606066" stroke-width="0.2">80</text>
<text x="404.8" y="349.25" font-size="11" text-anchor="end" font-family='"Liberation Sans", sans-serif' fill="#606066" stroke="#606066" stroke-width="0.2">100</text>
<text x="470.28" y="562.0" font-size="11" text-anchor="middle" font-family='"Liberation Sans", sans-serif' fill="#606066" stroke="#606066" stroke-width="0.2">20</text>
<text x="538.66" y="562.0" font-size="11" text-anchor="middle" font-family='"Liberation Sans", sans-serif' fill="#606066" stroke="#606066" stroke-width="0.2">40</text>
<text x="607.04" y="562.0" font-size="11" text-anchor="middle" font-family='"Liberation Sans", sans-serif' fill="#606066" stroke="#606066" stroke-width="0.2">60</text>
<text x="675.42" y="562.0" font-size="11" text-anchor="middle" font-family='"Liberation Sans", sans-serif' fill="#606066" stroke="#606066" stroke-width="0.2">80</text>
<text x="743.80" y="562.0" font-size="11" text-anchor="middle" font-family='"Liberation Sans", sans-serif' fill="#606066" stroke="#606066" stroke-width="0.2">100</text>
<path d="M613.50 429.50 H637.50" stroke="#8fcaee" stroke-width="1"/>
<path d="M647.70 453.10 H668.50" stroke="#8fcaee" stroke-width="1"/>
<circle cx="740.00" cy="335.60" r="2.75" fill="#8f1b8c" stroke="#7d1a7b" stroke-width="0.5"/>
<circle cx="753.60" cy="341.60" r="2.75" fill="#8f1b8c" stroke="#7d1a7b" stroke-width="0.5"/>
<circle cx="750.10" cy="355.40" r="2.75" fill="#8f1b8c" stroke="#7d1a7b" stroke-width="0.5"/>
<circle cx="692.00" cy="373.50" r="2.75" fill="#8f1b8c" stroke="#7d1a7b" stroke-width="0.5"/>
<circle cx="709.10" cy="385.40" r="2.75" fill="#8f1b8c" stroke="#7d1a7b" stroke-width="0.5"/>
<circle cx="736.40" cy="385.40" r="2.75" fill="#8f1b8c" stroke="#7d1a7b" stroke-width="0.5"/>
<circle cx="634.10" cy="397.10" r="2.75" fill="#8f1b8c" stroke="#7d1a7b" stroke-width="0.5"/>
<circle cx="668.60" cy="407.00" r="2.75" fill="#8f1b8c" stroke="#7d1a7b" stroke-width="0.5"/>
<circle cx="719.30" cy="407.00" r="2.75" fill="#8f1b8c" stroke="#7d1a7b" stroke-width="0.5"/>
<circle cx="490.80" cy="419.30" r="2.75" fill="#8f1b8c" stroke="#7d1a7b" stroke-width="0.5"/>
<circle cx="514.50" cy="419.30" r="2.75" fill="#8f1b8c" stroke="#7d1a7b" stroke-width="0.5"/>
<circle cx="702.50" cy="387.50" r="2.75" fill="#6ab9e8" stroke="#58a6d6" stroke-width="0.5"/>
<circle cx="671.60" cy="423.40" r="2.75" fill="#6ab9e8" stroke="#58a6d6" stroke-width="0.5"/>
<circle cx="637.50" cy="429.50" r="2.75" fill="#6ab9e8" stroke="#58a6d6" stroke-width="0.5"/>
<circle cx="668.50" cy="453.10" r="2.75" fill="#6ab9e8" stroke="#58a6d6" stroke-width="0.5"/>
<circle cx="702.50" cy="463.20" r="2.75" fill="#6ab9e8" stroke="#58a6d6" stroke-width="0.5"/>
<circle cx="422.75" cy="541.00" r="2.75" fill="#6ab9e8" stroke="#58a6d6" stroke-width="0.5"/>
<path d="M613.50 426.50 L616.50 431.50 L610.50 431.50Z" fill="#6ab9e8"/>
<path d="M647.70 450.10 L650.70 455.10 L644.70 455.10Z" fill="#6ab9e8"/>
<path d="M706.00 460.20 L709.00 465.20 L703.00 465.20Z" fill="#6ab9e8"/>
<circle cx="282.6" cy="483.3" r="6.0" fill="#6ab9e8" stroke="#4f9acb" stroke-width="0.8"/>
<circle cx="282.6" cy="499.8" r="6.0" fill="#8f1b8c" stroke="#7a1878" stroke-width="0.8"/>
<path d="M282.6 515.9 L288.6 524.8 L276.6 524.8Z" fill="#a0a0a0" stroke="#8a8a8a" stroke-width="0.8"/>
<circle cx="282.6" cy="536.8" r="6.0" fill="#a0a0a0" stroke="#8a8a8a" stroke-width="0.8"/>
<text x="295.00" y="488.50" font-size="12.4" fill="#15105f" text-anchor="start" font-weight="bold" font-family='"Liberation Sans", sans-serif' textLength="39.00" lengthAdjust="spacingAndGlyphs" stroke="#15105f" stroke-width="0.38">AR-FL</text>
<text x="295.00" y="503.90" font-size="12.4" fill="#15105f" text-anchor="start" font-weight="bold" font-family='"Liberation Sans", sans-serif' textLength="36.80" lengthAdjust="spacingAndGlyphs" stroke="#15105f" stroke-width="0.38">BRD4</text>
<text x="295.00" y="524.30" font-size="12.4" fill="#15105f" text-anchor="start" font-weight="bold" font-family='"Liberation Sans", sans-serif' textLength="86.80" lengthAdjust="spacingAndGlyphs" stroke="#15105f" stroke-width="0.38">Micropurified</text>
<text x="295.00" y="542.90" font-size="12.4" fill="#15105f" text-anchor="start" font-weight="bold" font-family='"Liberation Sans", sans-serif' textLength="51.00" lengthAdjust="spacingAndGlyphs" stroke="#15105f" stroke-width="0.38">Purified</text>
<circle cx="697.5" cy="483.3" r="6.0" fill="#6ab9e8" stroke="#4f9acb" stroke-width="0.8"/>
<circle cx="697.5" cy="499.8" r="6.0" fill="#8f1b8c" stroke="#7a1878" stroke-width="0.8"/>
<path d="M697.5 515.9 L703.5 524.8 L691.5 524.8Z" fill="#a0a0a0" stroke="#8a8a8a" stroke-width="0.8"/>
<circle cx="697.5" cy="536.8" r="6.0" fill="#a0a0a0" stroke="#8a8a8a" stroke-width="0.8"/>
<text x="710.30" y="488.50" font-size="12.4" fill="#15105f" text-anchor="start" font-weight="bold" font-family='"Liberation Sans", sans-serif' textLength="38.30" lengthAdjust="spacingAndGlyphs" stroke="#15105f" stroke-width="0.38">AR-FL</text>
<text x="710.30" y="503.90" font-size="12.4" fill="#15105f" text-anchor="start" font-weight="bold" font-family='"Liberation Sans", sans-serif' textLength="36.00" lengthAdjust="spacingAndGlyphs" stroke="#15105f" stroke-width="0.38">BRD4</text>
<text x="710.30" y="524.30" font-size="12.4" fill="#15105f" text-anchor="start" font-weight="bold" font-family='"Liberation Sans", sans-serif' textLength="85.80" lengthAdjust="spacingAndGlyphs" stroke="#15105f" stroke-width="0.38">Micropurified</text>
<text x="710.30" y="542.90" font-size="12.4" fill="#15105f" text-anchor="start" font-weight="bold" font-family='"Liberation Sans", sans-serif' textLength="50.70" lengthAdjust="spacingAndGlyphs" stroke="#15105f" stroke-width="0.38">Purified</text>
<text x="6.80" y="321.20" font-size="12.6" fill="#15105f" text-anchor="start" font-weight="bold" font-family='"Liberation Sans", sans-serif' textLength="67.50" lengthAdjust="spacingAndGlyphs" stroke="#15105f" stroke-width="0.38">Unpurified</text>
<text x="388.10" y="322.40" font-size="12.6" fill="#15105f" text-anchor="start" font-weight="bold" font-family='"Liberation Sans", sans-serif' textLength="67.80" lengthAdjust="spacingAndGlyphs" stroke="#15105f" stroke-width="0.38">Unpurified</text>
<text x="334.80" y="581.00" font-size="13.0" fill="#15105f" text-anchor="start" font-weight="bold" font-family='"Liberation Sans", sans-serif' textLength="49.20" lengthAdjust="spacingAndGlyphs" stroke="#15105f" stroke-width="0.38">Purified</text>
<text x="704.80" y="581.00" font-size="13.0" fill="#15105f" text-anchor="start" font-weight="bold" font-family='"Liberation Sans", sans-serif' textLength="50.10" lengthAdjust="spacingAndGlyphs" stroke="#15105f" stroke-width="0.38">Purified</text>
<text x="166.90" y="318.20" font-size="22.3" fill="#15105f" text-anchor="start" font-weight="bold" font-family='"Liberation Sans", sans-serif' textLength="38.60" lengthAdjust="spacingAndGlyphs" stroke="#15105f" stroke-width="0.38">pDC</text>
<text x="206.20" y="322.40" font-size="13.8" fill="#15105f" text-anchor="start" font-weight="normal" font-family='"Liberation Serif", serif' textLength="14.60" lengthAdjust="spacingAndGlyphs" stroke="#15105f" stroke-width="0.3">50</text>
<text x="547.30" y="317.80" font-size="21" fill="#15105f" text-anchor="start" font-weight="bold" font-family='"Liberation Sans", sans-serif' textLength="13.60" lengthAdjust="spacingAndGlyphs" stroke="#15105f" stroke-width="0.38">D</text>
<text x="561.30" y="322.20" font-size="14" fill="#15105f" text-anchor="start" font-weight="bold" font-family='"Liberation Sans", sans-serif' textLength="26.00" lengthAdjust="spacingAndGlyphs" stroke="#15105f" stroke-width="0.38">max</text>
<text x="588.70" y="317.60" font-size="21" fill="#15105f" text-anchor="start" font-weight="bold" font-family='"Liberation Sans", sans-serif' textLength="20.60" lengthAdjust="spacingAndGlyphs" stroke="#15105f" stroke-width="0.38">%</text>
</svg></body></html>
